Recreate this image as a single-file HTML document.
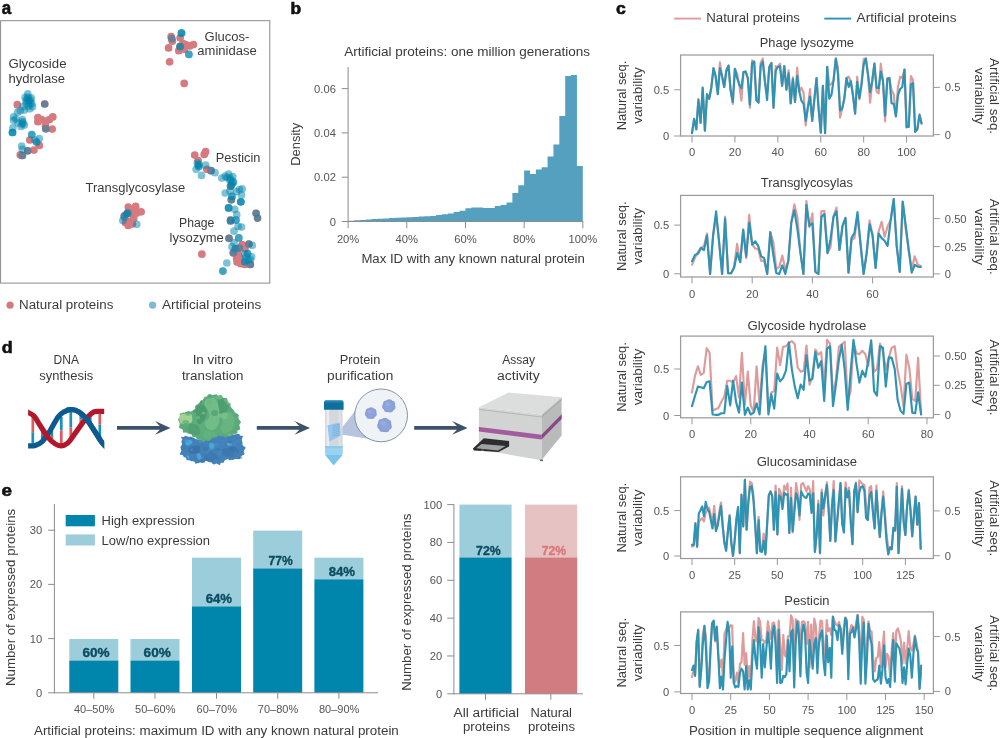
<!DOCTYPE html>
<html lang="en">
<head>
<meta charset="utf-8">
<title>Figure</title>
<style>
html,body{margin:0;padding:0;background:#fff;}
svg{display:block;will-change:transform;}
text{font-family:"Liberation Sans", sans-serif;}
</style>
</head>
<body>
<svg width="1000" height="738" viewBox="0 0 1000 738">
<rect x="0" y="0" width="1000" height="738" fill="#ffffff"/>
<g id="pa">
<text x="1.70" y="13.70" font-size="17.5" font-weight="bold" fill="#111" textLength="9.4" lengthAdjust="spacingAndGlyphs" stroke="#111" stroke-width="0.6">a</text>
<rect x="0.60" y="20.70" width="269.20" height="262.40" fill="none" stroke="#8a8a8a" stroke-width="1"/>
<g>
<circle cx="17.3" cy="104.7" r="3.85" fill="#d57a7f"/>
<circle cx="37.9" cy="117.6" r="3.85" fill="#d57a7f"/>
<circle cx="52.8" cy="116.9" r="3.85" fill="#d57a7f"/>
<circle cx="37.9" cy="121.7" r="3.85" fill="#d57a7f"/>
<circle cx="46.1" cy="121" r="3.85" fill="#d57a7f"/>
<circle cx="52.2" cy="129.1" r="3.85" fill="#d57a7f"/>
<circle cx="45.4" cy="125" r="3.85" fill="#d57a7f"/>
<circle cx="29.8" cy="140" r="3.85" fill="#d57a7f"/>
<circle cx="39.3" cy="145.4" r="3.85" fill="#d57a7f"/>
<circle cx="33.9" cy="150.1" r="3.85" fill="#d57a7f"/>
<circle cx="20.3" cy="154.9" r="3.85" fill="#d57a7f"/>
<circle cx="44.7" cy="104" r="3.85" fill="#d57a7f"/>
<circle cx="45.8" cy="128.8" r="3.85" fill="#d57a7f"/>
<circle cx="27.8" cy="150.8" r="3.85" fill="#d57a7f"/>
<circle cx="22.4" cy="155.5" r="3.85" fill="#d57a7f"/>
<circle cx="41.5" cy="119.5" r="3.85" fill="#d57a7f"/>
<circle cx="49.5" cy="119.5" r="3.85" fill="#d57a7f"/>
<circle cx="171.1" cy="36.7" r="3.85" fill="#d57a7f"/>
<circle cx="180.1" cy="37.8" r="3.85" fill="#d57a7f"/>
<circle cx="172.3" cy="41.2" r="3.85" fill="#d57a7f"/>
<circle cx="168.6" cy="47.9" r="3.85" fill="#d57a7f"/>
<circle cx="185.6" cy="44.6" r="3.85" fill="#d57a7f"/>
<circle cx="189.6" cy="45.9" r="3.85" fill="#d57a7f"/>
<circle cx="193.4" cy="44.6" r="3.85" fill="#d57a7f"/>
<circle cx="178.8" cy="50.7" r="3.85" fill="#d57a7f"/>
<circle cx="184.2" cy="49.3" r="3.85" fill="#d57a7f"/>
<circle cx="169.6" cy="61.8" r="3.85" fill="#d57a7f"/>
<circle cx="184.2" cy="83.4" r="3.85" fill="#d57a7f"/>
<circle cx="171.7" cy="38.5" r="3.85" fill="#d57a7f"/>
<circle cx="180.1" cy="46.6" r="3.85" fill="#d57a7f"/>
<circle cx="183" cy="43.5" r="3.85" fill="#d57a7f"/>
<circle cx="194.7" cy="155.1" r="3.85" fill="#d57a7f"/>
<circle cx="205.6" cy="151.7" r="3.85" fill="#d57a7f"/>
<circle cx="204.2" cy="154.4" r="3.85" fill="#d57a7f"/>
<circle cx="198.1" cy="160.5" r="3.85" fill="#d57a7f"/>
<circle cx="206.9" cy="169.3" r="3.85" fill="#d57a7f"/>
<circle cx="211" cy="170.7" r="3.85" fill="#d57a7f"/>
<circle cx="230.6" cy="186.2" r="3.85" fill="#d57a7f"/>
<circle cx="231.3" cy="199.8" r="3.85" fill="#d57a7f"/>
<circle cx="230.6" cy="220.1" r="3.85" fill="#d57a7f"/>
<circle cx="256.1" cy="213.3" r="3.85" fill="#d57a7f"/>
<circle cx="257.5" cy="218.1" r="3.85" fill="#d57a7f"/>
<circle cx="201.9" cy="254.2" r="3.85" fill="#d57a7f"/>
<circle cx="236.7" cy="258.3" r="3.85" fill="#d57a7f"/>
<circle cx="240.8" cy="263.7" r="3.85" fill="#d57a7f"/>
<circle cx="244.9" cy="264.4" r="3.85" fill="#d57a7f"/>
<circle cx="242.1" cy="244.7" r="3.85" fill="#d57a7f"/>
<circle cx="238.1" cy="254.2" r="3.85" fill="#d57a7f"/>
<circle cx="230.6" cy="221" r="3.85" fill="#d57a7f"/>
<circle cx="229" cy="238.3" r="3.85" fill="#d57a7f"/>
<circle cx="248.9" cy="244" r="3.85" fill="#d57a7f"/>
<circle cx="239.4" cy="248.1" r="3.85" fill="#d57a7f"/>
<circle cx="235.4" cy="248.8" r="3.85" fill="#d57a7f"/>
<circle cx="233.3" cy="252.8" r="3.85" fill="#d57a7f"/>
<circle cx="250.3" cy="264.4" r="3.85" fill="#d57a7f"/>
<circle cx="240" cy="258" r="3.85" fill="#d57a7f"/>
<circle cx="245" cy="249" r="3.85" fill="#d57a7f"/>
<circle cx="237" cy="262" r="3.85" fill="#d57a7f"/>
<circle cx="128.3" cy="207.1" r="3.85" fill="#d57a7f"/>
<circle cx="135.7" cy="206.4" r="3.85" fill="#d57a7f"/>
<circle cx="141.1" cy="211.8" r="3.85" fill="#d57a7f"/>
<circle cx="136.4" cy="213.2" r="3.85" fill="#d57a7f"/>
<circle cx="129.6" cy="213.2" r="3.85" fill="#d57a7f"/>
<circle cx="124.2" cy="215.9" r="3.85" fill="#d57a7f"/>
<circle cx="133.7" cy="218.6" r="3.85" fill="#d57a7f"/>
<circle cx="128.3" cy="221.3" r="3.85" fill="#d57a7f"/>
<circle cx="128.3" cy="225.4" r="3.85" fill="#d57a7f"/>
<circle cx="132.3" cy="224" r="3.85" fill="#d57a7f"/>
<circle cx="125.6" cy="222.7" r="3.85" fill="#d57a7f"/>
<circle cx="131" cy="210" r="3.85" fill="#d57a7f"/>
<circle cx="127.6" cy="213.2" r="3.85" fill="#d57a7f"/>
</g><g fill-opacity="0.5">
<circle cx="27.8" cy="93.9" r="3.85" fill="#0086ad"/>
<circle cx="25.1" cy="97.3" r="3.85" fill="#0086ad"/>
<circle cx="31.2" cy="97.9" r="3.85" fill="#0086ad"/>
<circle cx="28.5" cy="100.7" r="3.85" fill="#0086ad"/>
<circle cx="26.4" cy="103.4" r="3.85" fill="#0086ad"/>
<circle cx="31.8" cy="103.4" r="3.85" fill="#0086ad"/>
<circle cx="32.5" cy="106.7" r="3.85" fill="#0086ad"/>
<circle cx="29.8" cy="108.8" r="3.85" fill="#0086ad"/>
<circle cx="23" cy="106.7" r="3.85" fill="#0086ad"/>
<circle cx="24.4" cy="110.1" r="3.85" fill="#0086ad"/>
<circle cx="20.3" cy="110.8" r="3.85" fill="#0086ad"/>
<circle cx="17.6" cy="112.2" r="3.85" fill="#0086ad"/>
<circle cx="28" cy="97" r="3.85" fill="#0086ad"/>
<circle cx="29" cy="101" r="3.85" fill="#0086ad"/>
<circle cx="27" cy="99" r="3.85" fill="#0086ad"/>
<circle cx="30" cy="104" r="3.85" fill="#0086ad"/>
<circle cx="28.5" cy="106" r="3.85" fill="#0086ad"/>
<circle cx="26" cy="101" r="3.85" fill="#0086ad"/>
<circle cx="30.5" cy="100" r="3.85" fill="#0086ad"/>
<circle cx="13.6" cy="116.9" r="3.85" fill="#0086ad"/>
<circle cx="13.6" cy="120.3" r="3.85" fill="#0086ad"/>
<circle cx="22.4" cy="119.6" r="3.85" fill="#0086ad"/>
<circle cx="23" cy="123" r="3.85" fill="#0086ad"/>
<circle cx="21" cy="126.4" r="3.85" fill="#0086ad"/>
<circle cx="24.4" cy="125" r="3.85" fill="#0086ad"/>
<circle cx="12.9" cy="127.8" r="3.85" fill="#0086ad"/>
<circle cx="12.5" cy="132.5" r="3.85" fill="#0086ad"/>
<circle cx="12.5" cy="132.5" r="3.85" fill="#0086ad"/>
<circle cx="12.5" cy="132.5" r="3.85" fill="#0086ad"/>
<circle cx="22.5" cy="121.5" r="3.85" fill="#0086ad"/>
<circle cx="22" cy="124" r="3.85" fill="#0086ad"/>
<circle cx="16" cy="119" r="3.85" fill="#0086ad"/>
<circle cx="18" cy="123" r="3.85" fill="#0086ad"/>
<circle cx="31.8" cy="134.5" r="3.85" fill="#0086ad"/>
<circle cx="39.3" cy="138.6" r="3.85" fill="#0086ad"/>
<circle cx="36.6" cy="142" r="3.85" fill="#0086ad"/>
<circle cx="36.6" cy="142" r="3.85" fill="#0086ad"/>
<circle cx="21.7" cy="146" r="3.85" fill="#0086ad"/>
<circle cx="22.4" cy="149.4" r="3.85" fill="#0086ad"/>
<circle cx="31.8" cy="134.5" r="3.85" fill="#0086ad"/>
<circle cx="35" cy="140" r="3.85" fill="#0086ad"/>
<circle cx="44.7" cy="104" r="3.85" fill="#0086ad"/>
<circle cx="45.8" cy="128.8" r="3.85" fill="#0086ad"/>
<circle cx="27.8" cy="150.8" r="3.85" fill="#0086ad"/>
<circle cx="22.4" cy="155.5" r="3.85" fill="#0086ad"/>
<circle cx="181.5" cy="33" r="3.85" fill="#0086ad"/>
<circle cx="181.5" cy="33" r="3.85" fill="#0086ad"/>
<circle cx="181.5" cy="33" r="3.85" fill="#0086ad"/>
<circle cx="188.9" cy="54.4" r="3.85" fill="#0086ad"/>
<circle cx="188.9" cy="54.4" r="3.85" fill="#0086ad"/>
<circle cx="171.7" cy="38.5" r="3.85" fill="#0086ad"/>
<circle cx="180.1" cy="46.6" r="3.85" fill="#0086ad"/>
<circle cx="180.1" cy="46.6" r="3.85" fill="#0086ad"/>
<circle cx="197.4" cy="163.2" r="3.85" fill="#0086ad"/>
<circle cx="205.6" cy="165.2" r="3.85" fill="#0086ad"/>
<circle cx="198.8" cy="166.6" r="3.85" fill="#0086ad"/>
<circle cx="198.8" cy="166.6" r="3.85" fill="#0086ad"/>
<circle cx="196.1" cy="169.3" r="3.85" fill="#0086ad"/>
<circle cx="201.5" cy="175.4" r="3.85" fill="#0086ad"/>
<circle cx="215" cy="172.7" r="3.85" fill="#0086ad"/>
<circle cx="221.8" cy="178.1" r="3.85" fill="#0086ad"/>
<circle cx="225.2" cy="176.1" r="3.85" fill="#0086ad"/>
<circle cx="228.6" cy="174" r="3.85" fill="#0086ad"/>
<circle cx="232.7" cy="176.7" r="3.85" fill="#0086ad"/>
<circle cx="229.3" cy="179.5" r="3.85" fill="#0086ad"/>
<circle cx="233.3" cy="182.2" r="3.85" fill="#0086ad"/>
<circle cx="233.3" cy="182.2" r="3.85" fill="#0086ad"/>
<circle cx="231.3" cy="184.9" r="3.85" fill="#0086ad"/>
<circle cx="239.4" cy="189.6" r="3.85" fill="#0086ad"/>
<circle cx="242.1" cy="188.9" r="3.85" fill="#0086ad"/>
<circle cx="236.7" cy="191.7" r="3.85" fill="#0086ad"/>
<circle cx="225.2" cy="193" r="3.85" fill="#0086ad"/>
<circle cx="229.9" cy="191" r="3.85" fill="#0086ad"/>
<circle cx="232" cy="196.4" r="3.85" fill="#0086ad"/>
<circle cx="232" cy="196.4" r="3.85" fill="#0086ad"/>
<circle cx="241.5" cy="195" r="3.85" fill="#0086ad"/>
<circle cx="240.8" cy="201.8" r="3.85" fill="#0086ad"/>
<circle cx="240.8" cy="201.8" r="3.85" fill="#0086ad"/>
<circle cx="240.8" cy="201.8" r="3.85" fill="#0086ad"/>
<circle cx="228.6" cy="207.9" r="3.85" fill="#0086ad"/>
<circle cx="228.6" cy="207.9" r="3.85" fill="#0086ad"/>
<circle cx="228.6" cy="207.9" r="3.85" fill="#0086ad"/>
<circle cx="234.7" cy="209.3" r="3.85" fill="#0086ad"/>
<circle cx="236.7" cy="214.7" r="3.85" fill="#0086ad"/>
<circle cx="236" cy="220.1" r="3.85" fill="#0086ad"/>
<circle cx="236" cy="220.1" r="3.85" fill="#0086ad"/>
<circle cx="211" cy="170.7" r="3.85" fill="#0086ad"/>
<circle cx="230.6" cy="186.2" r="3.85" fill="#0086ad"/>
<circle cx="231.3" cy="199.8" r="3.85" fill="#0086ad"/>
<circle cx="230.6" cy="220.1" r="3.85" fill="#0086ad"/>
<circle cx="256.1" cy="213.3" r="3.85" fill="#0086ad"/>
<circle cx="257.5" cy="218.1" r="3.85" fill="#0086ad"/>
<circle cx="199" cy="164.5" r="3.85" fill="#0086ad"/>
<circle cx="227" cy="177.5" r="3.85" fill="#0086ad"/>
<circle cx="231" cy="180" r="3.85" fill="#0086ad"/>
<circle cx="198" cy="165" r="3.85" fill="#0086ad"/>
<circle cx="230" cy="178" r="3.85" fill="#0086ad"/>
<circle cx="232" cy="184" r="3.85" fill="#0086ad"/>
<circle cx="238.1" cy="226.4" r="3.85" fill="#0086ad"/>
<circle cx="241.5" cy="227.1" r="3.85" fill="#0086ad"/>
<circle cx="234" cy="231.2" r="3.85" fill="#0086ad"/>
<circle cx="238.8" cy="237.9" r="3.85" fill="#0086ad"/>
<circle cx="238.8" cy="237.9" r="3.85" fill="#0086ad"/>
<circle cx="234" cy="242.7" r="3.85" fill="#0086ad"/>
<circle cx="232" cy="246.7" r="3.85" fill="#0086ad"/>
<circle cx="252.3" cy="245.4" r="3.85" fill="#0086ad"/>
<circle cx="247.6" cy="253.5" r="3.85" fill="#0086ad"/>
<circle cx="247.6" cy="253.5" r="3.85" fill="#0086ad"/>
<circle cx="244.9" cy="254.2" r="3.85" fill="#0086ad"/>
<circle cx="251.6" cy="256.9" r="3.85" fill="#0086ad"/>
<circle cx="250.3" cy="259.6" r="3.85" fill="#0086ad"/>
<circle cx="244.9" cy="261.7" r="3.85" fill="#0086ad"/>
<circle cx="244.9" cy="261.7" r="3.85" fill="#0086ad"/>
<circle cx="226.8" cy="263" r="3.85" fill="#0086ad"/>
<circle cx="222.9" cy="271.1" r="3.85" fill="#0086ad"/>
<circle cx="222.9" cy="271.1" r="3.85" fill="#0086ad"/>
<circle cx="229" cy="238.3" r="3.85" fill="#0086ad"/>
<circle cx="248.9" cy="244" r="3.85" fill="#0086ad"/>
<circle cx="239.4" cy="248.1" r="3.85" fill="#0086ad"/>
<circle cx="235.4" cy="248.8" r="3.85" fill="#0086ad"/>
<circle cx="233.3" cy="252.8" r="3.85" fill="#0086ad"/>
<circle cx="250.3" cy="264.4" r="3.85" fill="#0086ad"/>
<circle cx="230.6" cy="221" r="3.85" fill="#0086ad"/>
<circle cx="246" cy="257" r="3.85" fill="#0086ad"/>
<circle cx="248" cy="260" r="3.85" fill="#0086ad"/>
<circle cx="127.6" cy="213.2" r="3.85" fill="#0086ad"/>
<circle cx="127.6" cy="213.2" r="3.85" fill="#0086ad"/>
<circle cx="126" cy="214.5" r="3.85" fill="#0086ad"/>
<circle cx="124.2" cy="217.2" r="3.85" fill="#0086ad"/>
<circle cx="122.8" cy="220.6" r="3.85" fill="#0086ad"/>
<circle cx="136.8" cy="224.3" r="3.85" fill="#0086ad"/>
</g>
<text x="8.40" y="67.60" font-size="12.0" fill="#3a3a3a" textLength="58.1" lengthAdjust="spacingAndGlyphs">Glycoside</text>
<text x="8.40" y="82.90" font-size="12.0" fill="#3a3a3a" textLength="56.7" lengthAdjust="spacingAndGlyphs">hydrolase</text>
<text x="227.00" y="40.50" font-size="12.0" text-anchor="middle" fill="#3a3a3a" textLength="44.9" lengthAdjust="spacingAndGlyphs">Glucos-</text>
<text x="227.00" y="55.40" font-size="12.0" text-anchor="middle" fill="#3a3a3a" textLength="59.4" lengthAdjust="spacingAndGlyphs">aminidase</text>
<text x="215.70" y="161.80" font-size="12.0" fill="#3a3a3a" textLength="44.7" lengthAdjust="spacingAndGlyphs">Pesticin</text>
<text x="85.60" y="191.90" font-size="12.0" fill="#3a3a3a" textLength="99.6" lengthAdjust="spacingAndGlyphs">Transglycosylase</text>
<text x="196.70" y="226.60" font-size="12.0" text-anchor="middle" fill="#3a3a3a" textLength="35.3" lengthAdjust="spacingAndGlyphs">Phage</text>
<text x="196.70" y="242.30" font-size="12.0" text-anchor="middle" fill="#3a3a3a" textLength="54.2" lengthAdjust="spacingAndGlyphs">lysozyme</text>
<circle cx="10.1" cy="305.2" r="3.6" fill="#d8787d"/>
<text x="19.00" y="309.40" font-size="12.0" fill="#3a3a3a" textLength="94.4" lengthAdjust="spacingAndGlyphs">Natural proteins</text>
<circle cx="152.6" cy="305.2" r="3.6" fill="#7cbad6"/>
<text x="161.90" y="309.40" font-size="12.0" fill="#3a3a3a" textLength="99.4" lengthAdjust="spacingAndGlyphs">Artificial proteins</text>
</g>
<g id="pb">
<text x="290.60" y="13.80" font-size="16" font-weight="bold" fill="#111" textLength="10.6" lengthAdjust="spacingAndGlyphs" stroke="#111" stroke-width="0.6">b</text>
<text x="344.20" y="55.50" font-size="12.0" fill="#3a3a3a" textLength="245.8" lengthAdjust="spacingAndGlyphs">Artificial proteins: one million generations</text>
<path d="M348.10,221.50 L348.10,220.70 L353.97,220.70 L353.97,220.30 L359.84,220.30 L359.84,219.90 L365.70,219.90 L365.70,219.50 L371.57,219.50 L371.57,219.10 L377.44,219.10 L377.44,218.70 L383.31,218.70 L383.31,218.40 L389.17,218.40 L389.17,218.10 L395.04,218.10 L395.04,217.80 L400.91,217.80 L400.91,217.50 L406.78,217.50 L406.77,217.20 L412.64,217.20 L412.64,216.90 L418.51,216.90 L418.51,216.60 L424.38,216.60 L424.38,216.30 L430.25,216.30 L430.25,215.90 L436.11,215.90 L436.11,215.00 L441.98,215.00 L441.98,214.30 L447.85,214.30 L447.85,213.50 L453.71,213.50 L453.71,212.00 L459.58,212.00 L459.58,210.70 L465.45,210.70 L465.45,208.20 L471.32,208.20 L471.32,207.50 L477.19,207.50 L477.18,207.50 L483.05,207.50 L483.05,208.00 L488.92,208.00 L488.92,208.00 L494.79,208.00 L494.79,206.00 L500.65,206.00 L500.65,205.00 L506.52,205.00 L506.52,202.50 L512.39,202.50 L512.39,192.90 L518.26,192.90 L518.26,185.20 L524.12,185.20 L524.12,170.50 L529.99,170.50 L529.99,174.00 L535.86,174.00 L535.86,169.50 L541.73,169.50 L541.73,167.30 L547.59,167.30 L547.59,156.50 L553.46,156.50 L553.46,144.50 L559.33,144.50 L559.33,116.10 L565.20,116.10 L565.20,76.00 L571.06,76.00 L571.06,75.00 L576.93,75.00 L576.93,165.90 L582.80,165.90 L582.80,221.50 Z" fill="#54a0be"/>
<line x1="348.10" y1="67.00" x2="348.10" y2="222.00" stroke="#8c8c8c" stroke-width="1"/>
<line x1="347.60" y1="221.50" x2="583.30" y2="221.50" stroke="#8c8c8c" stroke-width="1"/>
<line x1="341.80" y1="221.50" x2="348.10" y2="221.50" stroke="#8c8c8c" stroke-width="1"/>
<text x="335.90" y="225.50" font-size="11.2" text-anchor="end" fill="#555555">0</text>
<line x1="341.80" y1="177.20" x2="348.10" y2="177.20" stroke="#8c8c8c" stroke-width="1"/>
<text x="335.90" y="181.20" font-size="11.2" text-anchor="end" fill="#555555">0.02</text>
<line x1="341.80" y1="132.90" x2="348.10" y2="132.90" stroke="#8c8c8c" stroke-width="1"/>
<text x="335.90" y="136.90" font-size="11.2" text-anchor="end" fill="#555555">0.04</text>
<line x1="341.80" y1="88.60" x2="348.10" y2="88.60" stroke="#8c8c8c" stroke-width="1"/>
<text x="335.90" y="92.60" font-size="11.2" text-anchor="end" fill="#555555">0.06</text>
<line x1="348.10" y1="221.50" x2="348.10" y2="228.20" stroke="#8c8c8c" stroke-width="1"/>
<text x="348.10" y="242.80" font-size="11.2" text-anchor="middle" fill="#555555">20%</text>
<line x1="406.78" y1="221.50" x2="406.78" y2="228.20" stroke="#8c8c8c" stroke-width="1"/>
<text x="406.78" y="242.80" font-size="11.2" text-anchor="middle" fill="#555555">40%</text>
<line x1="465.46" y1="221.50" x2="465.46" y2="228.20" stroke="#8c8c8c" stroke-width="1"/>
<text x="465.46" y="242.80" font-size="11.2" text-anchor="middle" fill="#555555">60%</text>
<line x1="524.14" y1="221.50" x2="524.14" y2="228.20" stroke="#8c8c8c" stroke-width="1"/>
<text x="524.14" y="242.80" font-size="11.2" text-anchor="middle" fill="#555555">80%</text>
<line x1="582.82" y1="221.50" x2="582.82" y2="228.20" stroke="#8c8c8c" stroke-width="1"/>
<text x="582.82" y="242.80" font-size="11.2" text-anchor="middle" fill="#555555">100%</text>
<text x="361.40" y="263.10" font-size="12.0" fill="#3a3a3a" textLength="223.5" lengthAdjust="spacingAndGlyphs">Max ID with any known natural protein</text>
<text x="300.30" y="144.20" font-size="12.0" text-anchor="middle" fill="#3a3a3a" textLength="43.0" lengthAdjust="spacingAndGlyphs" transform="rotate(-90 300.30 144.20)">Density</text>
</g>
<g id="pc">
<text x="615.90" y="13.80" font-size="17" font-weight="bold" fill="#111" textLength="9.8" lengthAdjust="spacingAndGlyphs" stroke="#111" stroke-width="0.6">c</text>
<line x1="674.20" y1="18.60" x2="701.00" y2="18.60" stroke="#dd9b9b" stroke-width="1.9"/>
<text x="706.20" y="22.20" font-size="12.0" fill="#3a3a3a" textLength="93.8" lengthAdjust="spacingAndGlyphs">Natural proteins</text>
<line x1="824.30" y1="18.60" x2="851.20" y2="18.60" stroke="#2f93b3" stroke-width="1.9"/>
<text x="856.60" y="22.20" font-size="12.0" fill="#3a3a3a" textLength="99.9" lengthAdjust="spacingAndGlyphs">Artificial proteins</text>
<text x="806.90" y="47.10" font-size="12.0" text-anchor="middle" fill="#3a3a3a" textLength="94.2" lengthAdjust="spacingAndGlyphs">Phage lysozyme</text>
<polyline points="692.0,133.2 694.1,118.9 696.3,129.3 698.4,98.8 700.6,122.8 702.7,87.7 704.9,130.6 707.0,94.2 709.2,98.8 711.3,87.7 713.5,68.2 715.6,76.0 717.8,94.2 719.9,62.4 722.0,76.0 724.2,87.0 726.3,69.5 728.5,65.6 730.6,90.3 732.8,103.9 734.9,68.8 737.1,73.4 739.2,84.4 741.4,100.7 743.5,72.1 745.6,71.5 747.8,78.0 749.9,107.8 752.1,60.4 754.2,61.7 756.4,100.0 758.5,102.7 760.7,62.4 762.8,58.5 765.0,82.5 767.1,92.9 769.3,66.9 771.4,63.0 773.5,107.8 775.7,66.2 777.8,66.9 780.0,63.6 782.1,85.8 784.3,66.2 786.4,89.7 788.6,70.2 790.7,103.3 792.9,77.3 795.0,102.0 797.2,67.5 799.3,91.6 801.4,87.7 803.6,92.9 805.7,125.4 807.9,107.2 810.0,89.0 812.2,120.8 814.3,100.0 816.5,78.0 818.6,108.5 820.8,132.6 822.9,85.8 825.1,133.2 827.2,66.9 829.3,85.1 831.5,83.8 833.6,79.9 835.8,58.5 837.9,66.9 840.1,117.6 842.2,108.5 844.4,98.1 846.5,78.0 848.7,76.7 850.8,81.2 853.0,95.5 855.1,113.7 857.2,76.7 859.4,99.4 861.5,84.4 863.7,59.1 865.8,58.5 868.0,74.7 870.1,102.7 872.3,80.5 874.4,63.6 876.6,91.6 878.7,93.5 880.8,63.6 883.0,81.2 885.1,121.5 887.3,78.0 889.4,78.0 891.6,90.3 893.7,94.2 895.9,116.3 898.0,86.4 900.2,76.7 902.3,78.0 904.5,69.5 906.6,127.3 908.7,126.7 910.9,76.0 913.0,79.9 915.2,131.9 917.3,129.3 919.5,114.3 921.6,123.5" fill="none" stroke="#dd9b9b" stroke-width="2.15" stroke-linejoin="round" stroke-linecap="round"/>
<polyline points="692.0,133.2 694.1,118.9 696.3,129.3 698.4,100.0 700.6,122.8 702.7,87.7 704.9,130.6 707.0,94.2 709.2,98.8 711.3,87.7 713.5,68.2 715.6,76.0 717.8,94.2 719.9,68.2 722.0,76.0 724.2,87.0 726.3,71.5 728.5,65.6 730.6,90.3 732.8,102.0 734.9,68.8 737.1,78.0 739.2,84.4 741.4,88.3 743.5,72.1 745.6,71.5 747.8,78.0 749.9,104.6 752.1,63.0 754.2,61.7 756.4,100.0 758.5,102.7 760.7,65.6 762.8,61.7 765.0,82.5 767.1,100.0 769.3,66.9 771.4,63.0 773.5,107.8 775.7,70.8 777.8,66.9 780.0,66.2 782.1,85.8 784.3,66.2 786.4,89.7 788.6,73.4 790.7,103.3 792.9,79.2 795.0,102.0 797.2,76.0 799.3,91.6 801.4,100.7 803.6,103.9 805.7,120.8 807.9,107.2 810.0,96.8 812.2,120.8 814.3,100.0 816.5,78.0 818.6,108.5 820.8,132.6 822.9,85.8 825.1,133.2 827.2,66.9 829.3,98.8 831.5,94.8 833.6,79.9 835.8,58.5 837.9,73.4 840.1,110.4 842.2,108.5 844.4,98.1 846.5,78.0 848.7,87.0 850.8,81.2 853.0,95.5 855.1,113.7 857.2,81.8 859.4,98.1 861.5,84.4 863.7,64.3 865.8,58.5 868.0,74.7 870.1,92.2 872.3,80.5 874.4,63.6 876.6,87.7 878.7,88.3 880.8,71.5 883.0,81.2 885.1,115.6 887.3,79.2 889.4,78.0 891.6,103.3 893.7,103.9 895.9,116.3 898.0,94.8 900.2,89.0 902.3,87.0 904.5,69.5 906.6,127.3 908.7,126.7 910.9,84.4 913.0,83.2 915.2,131.9 917.3,129.3 919.5,115.0 921.6,123.5" fill="none" stroke="#2f93b3" stroke-width="2.15" stroke-linejoin="round" stroke-linecap="round"/>
<rect x="680.60" y="55.00" width="252.80" height="81.00" fill="none" stroke="#9b9b9b" stroke-width="1.25"/>
<line x1="674.20" y1="136.00" x2="680.60" y2="136.00" stroke="#999" stroke-width="1"/>
<text x="669.20" y="140.00" font-size="11.2" text-anchor="end" fill="#555555">0</text>
<line x1="674.20" y1="89.80" x2="680.60" y2="89.80" stroke="#999" stroke-width="1"/>
<text x="669.20" y="93.80" font-size="11.2" text-anchor="end" fill="#555555">0.5</text>
<line x1="933.40" y1="134.60" x2="939.80" y2="134.60" stroke="#999" stroke-width="1"/>
<text x="944.80" y="138.60" font-size="11.2" fill="#555555">0</text>
<line x1="933.40" y1="87.40" x2="939.80" y2="87.40" stroke="#999" stroke-width="1"/>
<text x="944.80" y="91.40" font-size="11.2" fill="#555555">0.5</text>
<line x1="692.00" y1="136.00" x2="692.00" y2="142.50" stroke="#999" stroke-width="1"/>
<text x="692.00" y="156.40" font-size="11.2" text-anchor="middle" fill="#555555">0</text>
<line x1="734.92" y1="136.00" x2="734.92" y2="142.50" stroke="#999" stroke-width="1"/>
<text x="734.92" y="156.40" font-size="11.2" text-anchor="middle" fill="#555555">20</text>
<line x1="777.84" y1="136.00" x2="777.84" y2="142.50" stroke="#999" stroke-width="1"/>
<text x="777.84" y="156.40" font-size="11.2" text-anchor="middle" fill="#555555">40</text>
<line x1="820.76" y1="136.00" x2="820.76" y2="142.50" stroke="#999" stroke-width="1"/>
<text x="820.76" y="156.40" font-size="11.2" text-anchor="middle" fill="#555555">60</text>
<line x1="863.68" y1="136.00" x2="863.68" y2="142.50" stroke="#999" stroke-width="1"/>
<text x="863.68" y="156.40" font-size="11.2" text-anchor="middle" fill="#555555">80</text>
<line x1="906.60" y1="136.00" x2="906.60" y2="142.50" stroke="#999" stroke-width="1"/>
<text x="906.60" y="156.40" font-size="11.2" text-anchor="middle" fill="#555555">100</text>
<text x="626.40" y="95.50" font-size="12.0" text-anchor="middle" fill="#3a3a3a" textLength="69.7" lengthAdjust="spacingAndGlyphs" transform="rotate(-90 626.40 95.50)">Natural seq.</text>
<text x="642.00" y="95.50" font-size="12.0" text-anchor="middle" fill="#3a3a3a" textLength="56.5" lengthAdjust="spacingAndGlyphs" transform="rotate(-90 642.00 95.50)">variability</text>
<text x="990.20" y="96.10" font-size="12.0" text-anchor="middle" fill="#3a3a3a" textLength="76.0" lengthAdjust="spacingAndGlyphs" transform="rotate(90 990.20 96.10)">Artificial seq.</text>
<text x="974.80" y="96.10" font-size="12.0" text-anchor="middle" fill="#3a3a3a" textLength="56.5" lengthAdjust="spacingAndGlyphs" transform="rotate(90 974.80 96.10)">variability</text>
<text x="806.90" y="187.30" font-size="12.0" text-anchor="middle" fill="#3a3a3a" textLength="92.3" lengthAdjust="spacingAndGlyphs">Transglycosylas</text>
<polyline points="692.0,264.8 695.0,257.6 698.0,251.8 701.0,247.8 704.0,245.9 707.0,233.6 710.1,273.9 713.1,235.5 716.1,215.3 719.1,242.0 722.1,273.9 725.1,216.7 728.1,273.2 731.1,273.2 734.1,266.7 737.1,243.9 740.2,262.1 743.2,229.7 746.2,258.2 749.2,214.7 752.2,244.6 755.2,248.5 758.2,249.2 761.2,260.9 764.2,260.9 767.2,273.9 770.3,232.2 773.3,242.0 776.3,269.3 779.3,266.7 782.3,255.6 785.3,269.3 788.3,260.9 791.3,222.5 794.3,204.3 797.4,217.3 800.4,252.4 803.4,273.9 806.4,201.1 809.4,227.1 812.4,213.4 815.4,271.9 818.4,273.9 821.4,211.4 824.4,210.8 827.5,253.1 830.5,247.2 833.5,216.7 836.5,207.6 839.5,249.8 842.5,225.8 845.5,217.9 848.5,272.6 851.5,240.1 854.5,238.1 857.5,216.0 860.6,244.6 863.6,273.9 866.6,253.7 869.6,220.6 872.6,235.5 875.6,268.0 878.6,231.6 881.6,221.8 884.6,236.8 887.6,226.4 890.7,219.9 893.7,199.1 896.7,245.9 899.7,271.9 902.7,201.7 905.7,229.0 908.7,249.8 911.7,269.3 914.7,256.3 917.8,264.8 920.8,266.1" fill="none" stroke="#dd9b9b" stroke-width="2.15" stroke-linejoin="round" stroke-linecap="round"/>
<polyline points="692.0,261.2 695.0,255.0 698.0,253.7 701.0,247.8 704.0,250.1 707.0,235.5 710.1,273.9 713.1,235.5 716.1,211.4 719.1,242.0 722.1,273.9 725.1,218.6 728.1,273.2 731.1,273.2 734.1,268.0 737.1,253.1 740.2,262.1 743.2,229.7 746.2,256.3 749.2,222.5 752.2,244.6 755.2,241.3 758.2,245.9 761.2,256.3 764.2,258.2 767.2,273.9 770.3,232.2 773.3,255.0 776.3,273.2 779.3,273.9 782.3,265.4 785.3,273.9 788.3,260.9 791.3,222.5 794.3,210.2 797.4,229.0 800.4,252.4 803.4,273.9 806.4,204.9 809.4,225.8 812.4,223.2 815.4,271.9 818.4,273.9 821.4,216.7 824.4,214.1 827.5,253.1 830.5,239.4 833.5,216.7 836.5,211.4 839.5,249.8 842.5,225.8 845.5,217.9 848.5,272.6 851.5,238.1 854.5,232.9 857.5,212.1 860.6,244.6 863.6,273.9 866.6,253.7 869.6,224.4 872.6,235.5 875.6,268.0 878.6,233.6 881.6,238.1 884.6,240.7 887.6,245.9 890.7,219.9 893.7,199.1 896.7,245.9 899.7,271.9 902.7,201.7 905.7,225.1 908.7,249.8 911.7,272.6 914.7,264.8 917.8,266.7 920.8,267.0" fill="none" stroke="#2f93b3" stroke-width="2.15" stroke-linejoin="round" stroke-linecap="round"/>
<rect x="680.60" y="195.40" width="252.80" height="81.60" fill="none" stroke="#9b9b9b" stroke-width="1.25"/>
<line x1="674.20" y1="273.80" x2="680.60" y2="273.80" stroke="#999" stroke-width="1"/>
<text x="669.20" y="277.80" font-size="11.2" text-anchor="end" fill="#555555">0</text>
<line x1="674.20" y1="225.10" x2="680.60" y2="225.10" stroke="#999" stroke-width="1"/>
<text x="669.20" y="229.10" font-size="11.2" text-anchor="end" fill="#555555">0.5</text>
<line x1="933.40" y1="273.90" x2="939.80" y2="273.90" stroke="#999" stroke-width="1"/>
<text x="944.80" y="277.90" font-size="11.2" fill="#555555">0</text>
<line x1="933.40" y1="246.60" x2="939.80" y2="246.60" stroke="#999" stroke-width="1"/>
<text x="944.80" y="250.60" font-size="11.2" fill="#555555">0.25</text>
<line x1="933.40" y1="218.60" x2="939.80" y2="218.60" stroke="#999" stroke-width="1"/>
<text x="944.80" y="222.60" font-size="11.2" fill="#555555">0.50</text>
<line x1="692.00" y1="277.00" x2="692.00" y2="283.50" stroke="#999" stroke-width="1"/>
<text x="692.00" y="297.80" font-size="11.2" text-anchor="middle" fill="#555555">0</text>
<line x1="752.20" y1="277.00" x2="752.20" y2="283.50" stroke="#999" stroke-width="1"/>
<text x="752.20" y="297.80" font-size="11.2" text-anchor="middle" fill="#555555">20</text>
<line x1="812.40" y1="277.00" x2="812.40" y2="283.50" stroke="#999" stroke-width="1"/>
<text x="812.40" y="297.80" font-size="11.2" text-anchor="middle" fill="#555555">40</text>
<line x1="872.60" y1="277.00" x2="872.60" y2="283.50" stroke="#999" stroke-width="1"/>
<text x="872.60" y="297.80" font-size="11.2" text-anchor="middle" fill="#555555">60</text>
<text x="626.40" y="236.20" font-size="12.0" text-anchor="middle" fill="#3a3a3a" textLength="69.7" lengthAdjust="spacingAndGlyphs" transform="rotate(-90 626.40 236.20)">Natural seq.</text>
<text x="642.00" y="236.20" font-size="12.0" text-anchor="middle" fill="#3a3a3a" textLength="56.5" lengthAdjust="spacingAndGlyphs" transform="rotate(-90 642.00 236.20)">variability</text>
<text x="990.20" y="236.80" font-size="12.0" text-anchor="middle" fill="#3a3a3a" textLength="76.0" lengthAdjust="spacingAndGlyphs" transform="rotate(90 990.20 236.80)">Artificial seq.</text>
<text x="974.80" y="236.80" font-size="12.0" text-anchor="middle" fill="#3a3a3a" textLength="56.5" lengthAdjust="spacingAndGlyphs" transform="rotate(90 974.80 236.80)">variability</text>
<text x="806.90" y="330.40" font-size="12.0" text-anchor="middle" fill="#3a3a3a" textLength="119.0" lengthAdjust="spacingAndGlyphs">Glycoside hydrolase</text>
<polyline points="692.0,392.4 694.9,376.1 697.9,366.4 700.8,374.9 703.7,372.9 706.7,348.2 709.6,352.8 712.6,410.6 715.5,409.3 718.4,408.0 721.4,401.5 724.3,396.9 727.2,380.7 730.2,380.7 733.1,382.6 736.1,376.1 739.0,397.6 741.9,352.8 744.9,404.8 747.8,371.6 750.7,405.4 753.7,411.9 756.6,366.4 759.6,404.8 762.5,365.8 765.4,350.1 768.4,410.6 771.3,392.4 774.2,391.1 777.2,347.6 780.1,365.1 783.0,346.9 786.0,346.2 788.9,343.0 791.9,341.1 794.8,344.3 797.7,367.7 800.7,371.6 803.6,370.9 806.5,345.6 809.5,384.6 812.4,376.1 815.4,349.5 818.3,354.7 821.2,352.1 824.2,385.9 827.1,339.8 830.0,343.6 833.0,395.0 835.9,379.4 838.9,346.9 841.8,344.3 844.7,341.7 847.7,402.1 850.6,391.1 853.5,343.0 856.5,353.4 859.4,354.1 862.3,350.8 865.3,354.1 868.2,365.8 871.2,343.6 874.1,371.6 877.0,369.0 880.0,343.6 882.9,351.4 885.8,369.6 888.8,357.9 891.7,347.6 894.7,346.2 897.6,370.3 900.5,384.6 903.5,406.7 906.4,354.7 909.3,367.7 912.3,398.9 915.2,400.9 918.1,357.9 921.1,413.2" fill="none" stroke="#dd9b9b" stroke-width="2.15" stroke-linejoin="round" stroke-linecap="round"/>
<polyline points="692.0,406.1 694.9,396.3 697.9,386.6 700.8,387.2 703.7,388.2 706.7,382.0 709.6,381.4 712.6,414.5 715.5,414.8 718.4,414.8 721.4,413.2 724.3,413.2 727.2,385.9 730.2,405.4 733.1,380.7 736.1,402.1 739.0,412.6 741.9,382.6 744.9,414.8 747.8,407.7 750.7,414.5 753.7,412.6 756.6,403.4 759.6,414.5 762.5,372.9 765.4,346.2 768.4,414.5 771.3,394.4 774.2,408.6 777.2,373.6 780.1,381.4 783.0,378.1 786.0,370.3 788.9,342.4 791.9,369.6 794.8,386.6 797.7,398.2 800.7,384.6 803.6,389.8 806.5,355.4 809.5,380.7 812.4,378.8 815.4,352.1 818.3,367.7 821.2,361.2 824.2,400.9 827.1,348.9 830.0,346.2 833.0,406.1 835.9,384.6 838.9,359.9 841.8,344.9 844.7,369.6 847.7,409.9 850.6,372.2 853.5,339.8 856.5,363.8 859.4,382.6 862.3,370.9 865.3,376.8 868.2,361.2 871.2,340.4 874.1,391.1 877.0,395.6 880.0,346.2 882.9,347.6 885.8,386.6 888.8,357.3 891.7,357.9 894.7,369.0 897.6,399.6 900.5,410.6 903.5,413.9 906.4,383.9 909.3,382.6 912.3,412.6 915.2,413.2 918.1,392.4 921.1,414.5" fill="none" stroke="#2f93b3" stroke-width="2.15" stroke-linejoin="round" stroke-linecap="round"/>
<rect x="680.60" y="336.10" width="252.80" height="81.70" fill="none" stroke="#9b9b9b" stroke-width="1.25"/>
<line x1="674.20" y1="415.50" x2="680.60" y2="415.50" stroke="#999" stroke-width="1"/>
<text x="669.20" y="419.50" font-size="11.2" text-anchor="end" fill="#555555">0</text>
<line x1="674.20" y1="369.00" x2="680.60" y2="369.00" stroke="#999" stroke-width="1"/>
<text x="669.20" y="373.00" font-size="11.2" text-anchor="end" fill="#555555">0.5</text>
<line x1="933.40" y1="414.50" x2="939.80" y2="414.50" stroke="#999" stroke-width="1"/>
<text x="944.80" y="418.50" font-size="11.2" fill="#555555">0</text>
<line x1="933.40" y1="385.30" x2="939.80" y2="385.30" stroke="#999" stroke-width="1"/>
<text x="944.80" y="389.30" font-size="11.2" fill="#555555">0.25</text>
<line x1="933.40" y1="356.00" x2="939.80" y2="356.00" stroke="#999" stroke-width="1"/>
<text x="944.80" y="360.00" font-size="11.2" fill="#555555">0.50</text>
<line x1="692.00" y1="417.80" x2="692.00" y2="424.30" stroke="#999" stroke-width="1"/>
<text x="692.00" y="438.00" font-size="11.2" text-anchor="middle" fill="#555555">0</text>
<line x1="750.74" y1="417.80" x2="750.74" y2="424.30" stroke="#999" stroke-width="1"/>
<text x="750.74" y="438.00" font-size="11.2" text-anchor="middle" fill="#555555">20</text>
<line x1="809.48" y1="417.80" x2="809.48" y2="424.30" stroke="#999" stroke-width="1"/>
<text x="809.48" y="438.00" font-size="11.2" text-anchor="middle" fill="#555555">40</text>
<line x1="868.22" y1="417.80" x2="868.22" y2="424.30" stroke="#999" stroke-width="1"/>
<text x="868.22" y="438.00" font-size="11.2" text-anchor="middle" fill="#555555">60</text>
<line x1="926.96" y1="417.80" x2="926.96" y2="424.30" stroke="#999" stroke-width="1"/>
<text x="926.96" y="438.00" font-size="11.2" text-anchor="middle" fill="#555555">80</text>
<text x="626.40" y="376.95" font-size="12.0" text-anchor="middle" fill="#3a3a3a" textLength="69.7" lengthAdjust="spacingAndGlyphs" transform="rotate(-90 626.40 376.95)">Natural seq.</text>
<text x="642.00" y="376.95" font-size="12.0" text-anchor="middle" fill="#3a3a3a" textLength="56.5" lengthAdjust="spacingAndGlyphs" transform="rotate(-90 642.00 376.95)">variability</text>
<text x="990.20" y="377.55" font-size="12.0" text-anchor="middle" fill="#3a3a3a" textLength="76.0" lengthAdjust="spacingAndGlyphs" transform="rotate(90 990.20 377.55)">Artificial seq.</text>
<text x="974.80" y="377.55" font-size="12.0" text-anchor="middle" fill="#3a3a3a" textLength="56.5" lengthAdjust="spacingAndGlyphs" transform="rotate(90 974.80 377.55)">variability</text>
<text x="806.90" y="465.90" font-size="12.0" text-anchor="middle" fill="#3a3a3a" textLength="100.4" lengthAdjust="spacingAndGlyphs">Glucosaminidase</text>
<polyline points="692.0,546.7 693.7,546.0 695.4,523.3 697.1,546.7 698.8,521.4 700.5,520.0 702.2,518.1 703.9,521.4 705.7,512.9 707.4,510.3 709.1,507.7 710.8,515.5 712.5,523.3 714.2,505.8 715.9,525.9 717.6,525.9 719.3,511.6 721.0,502.5 722.7,525.9 724.4,542.8 726.1,550.6 727.8,532.4 729.6,514.9 731.3,542.8 733.0,555.8 734.7,540.2 736.4,519.4 738.1,507.1 739.8,553.2 741.5,494.7 743.2,526.5 744.9,479.8 746.6,529.8 748.3,502.5 750.0,481.7 751.7,483.0 753.5,496.0 755.2,524.6 756.9,553.2 758.6,516.8 760.3,551.2 762.0,548.0 763.7,533.7 765.4,553.2 767.1,524.6 768.8,495.4 770.5,491.4 772.2,496.0 773.9,529.8 775.6,485.6 777.4,534.4 779.1,488.9 780.8,492.8 782.5,503.8 784.2,485.6 785.9,489.5 787.6,483.6 789.3,533.0 791.0,487.6 792.7,532.4 794.4,506.4 796.1,483.0 797.8,493.4 799.5,520.0 801.2,484.3 803.0,483.0 804.7,486.9 806.4,491.4 808.1,486.2 809.8,489.5 811.5,509.0 813.2,481.1 814.9,551.9 816.6,535.0 818.3,500.6 820.0,553.2 821.7,489.5 823.4,515.5 825.1,496.0 826.9,482.4 828.6,509.0 830.3,540.9 832.0,505.8 833.7,481.1 835.4,541.5 837.1,522.0 838.8,502.5 840.5,483.0 842.2,523.3 843.9,532.4 845.6,482.4 847.3,497.3 849.0,487.6 850.8,522.0 852.5,544.1 854.2,491.4 855.9,482.4 857.6,512.2 859.3,480.4 861.0,482.4 862.7,484.3 864.4,484.9 866.1,505.1 867.8,520.0 869.5,487.6 871.2,486.2 872.9,511.6 874.6,528.5 876.4,485.6 878.1,515.5 879.8,537.0 881.5,512.9 883.2,491.4 884.9,512.9 886.6,535.0 888.3,548.0 890.0,547.4 891.7,549.3 893.4,527.9 895.1,530.5 896.8,483.0 898.5,553.2 900.3,520.7 902.0,486.2 903.7,522.0 905.4,535.0 907.1,505.8 908.8,489.5 910.5,510.3 912.2,536.3 913.9,515.5 915.6,496.6 917.3,524.6 919.0,503.1 920.7,548.6" fill="none" stroke="#dd9b9b" stroke-width="2.15" stroke-linejoin="round" stroke-linecap="round"/>
<polyline points="692.0,544.8 693.7,544.8 695.4,523.3 697.1,546.7 698.8,513.5 700.5,510.3 702.2,506.4 703.9,516.1 705.7,501.9 707.4,509.0 709.1,511.6 710.8,520.0 712.5,528.5 714.2,514.2 715.9,531.1 717.6,525.9 719.3,515.5 721.0,505.8 722.7,525.9 724.4,542.8 726.1,550.6 727.8,532.4 729.6,516.1 731.3,542.8 733.0,555.8 734.7,540.2 736.4,519.4 738.1,507.1 739.8,553.2 741.5,494.7 743.2,526.5 744.9,479.8 746.6,529.8 748.3,502.5 750.0,486.9 751.7,486.2 753.5,500.6 755.2,524.6 756.9,553.2 758.6,520.0 760.3,551.2 762.0,551.9 763.7,540.9 765.4,554.5 767.1,524.6 768.8,495.4 770.5,491.4 772.2,496.0 773.9,529.8 775.6,492.1 777.4,534.4 779.1,495.4 780.8,497.3 782.5,509.0 784.2,492.8 785.9,494.7 787.6,494.1 789.3,533.0 791.0,497.9 792.7,531.1 794.4,511.6 796.1,493.4 797.8,498.6 799.5,515.5 801.2,491.4 803.0,495.4 804.7,497.3 806.4,497.9 808.1,493.4 809.8,494.7 811.5,512.9 813.2,493.4 814.9,551.9 816.6,535.0 818.3,504.4 820.0,553.2 821.7,492.8 823.4,508.4 825.1,496.0 826.9,484.9 828.6,509.0 830.3,540.9 832.0,505.8 833.7,490.1 835.4,541.5 837.1,522.0 838.8,502.5 840.5,483.0 842.2,523.3 843.9,532.4 845.6,488.2 847.3,497.3 849.0,490.8 850.8,522.0 852.5,544.1 854.2,491.4 855.9,483.6 857.6,512.2 859.3,492.1 861.0,486.9 862.7,486.2 864.4,490.8 866.1,518.1 867.8,520.0 869.5,496.0 871.2,492.1 872.9,511.6 874.6,528.5 876.4,490.8 878.1,515.5 879.8,537.0 881.5,512.9 883.2,496.6 884.9,517.5 886.6,542.1 888.3,554.5 890.0,547.4 891.7,549.3 893.4,527.9 895.1,530.5 896.8,486.9 898.5,553.2 900.3,520.7 902.0,488.9 903.7,522.0 905.4,535.0 907.1,505.8 908.8,490.8 910.5,510.3 912.2,536.3 913.9,515.5 915.6,496.6 917.3,524.6 919.0,503.1 920.7,548.6" fill="none" stroke="#2f93b3" stroke-width="2.15" stroke-linejoin="round" stroke-linecap="round"/>
<rect x="680.60" y="476.80" width="252.80" height="81.70" fill="none" stroke="#9b9b9b" stroke-width="1.25"/>
<line x1="674.20" y1="556.00" x2="680.60" y2="556.00" stroke="#999" stroke-width="1"/>
<text x="669.20" y="560.00" font-size="11.2" text-anchor="end" fill="#555555">0</text>
<line x1="674.20" y1="510.60" x2="680.60" y2="510.60" stroke="#999" stroke-width="1"/>
<text x="669.20" y="514.60" font-size="11.2" text-anchor="end" fill="#555555">0.5</text>
<line x1="933.40" y1="555.70" x2="939.80" y2="555.70" stroke="#999" stroke-width="1"/>
<text x="944.80" y="559.70" font-size="11.2" fill="#555555">0</text>
<line x1="933.40" y1="510.90" x2="939.80" y2="510.90" stroke="#999" stroke-width="1"/>
<text x="944.80" y="514.90" font-size="11.2" fill="#555555">0.5</text>
<line x1="692.00" y1="558.50" x2="692.00" y2="565.00" stroke="#999" stroke-width="1"/>
<text x="692.00" y="578.50" font-size="11.2" text-anchor="middle" fill="#555555">0</text>
<line x1="734.67" y1="558.50" x2="734.67" y2="565.00" stroke="#999" stroke-width="1"/>
<text x="734.67" y="578.50" font-size="11.2" text-anchor="middle" fill="#555555">25</text>
<line x1="777.35" y1="558.50" x2="777.35" y2="565.00" stroke="#999" stroke-width="1"/>
<text x="777.35" y="578.50" font-size="11.2" text-anchor="middle" fill="#555555">50</text>
<line x1="820.02" y1="558.50" x2="820.02" y2="565.00" stroke="#999" stroke-width="1"/>
<text x="820.02" y="578.50" font-size="11.2" text-anchor="middle" fill="#555555">75</text>
<line x1="862.70" y1="558.50" x2="862.70" y2="565.00" stroke="#999" stroke-width="1"/>
<text x="862.70" y="578.50" font-size="11.2" text-anchor="middle" fill="#555555">100</text>
<line x1="905.38" y1="558.50" x2="905.38" y2="565.00" stroke="#999" stroke-width="1"/>
<text x="905.38" y="578.50" font-size="11.2" text-anchor="middle" fill="#555555">125</text>
<text x="626.40" y="517.65" font-size="12.0" text-anchor="middle" fill="#3a3a3a" textLength="69.7" lengthAdjust="spacingAndGlyphs" transform="rotate(-90 626.40 517.65)">Natural seq.</text>
<text x="642.00" y="517.65" font-size="12.0" text-anchor="middle" fill="#3a3a3a" textLength="56.5" lengthAdjust="spacingAndGlyphs" transform="rotate(-90 642.00 517.65)">variability</text>
<text x="990.20" y="518.25" font-size="12.0" text-anchor="middle" fill="#3a3a3a" textLength="76.0" lengthAdjust="spacingAndGlyphs" transform="rotate(90 990.20 518.25)">Artificial seq.</text>
<text x="974.80" y="518.25" font-size="12.0" text-anchor="middle" fill="#3a3a3a" textLength="56.5" lengthAdjust="spacingAndGlyphs" transform="rotate(90 974.80 518.25)">variability</text>
<text x="806.90" y="604.70" font-size="12.0" text-anchor="middle" fill="#3a3a3a" textLength="45.2" lengthAdjust="spacingAndGlyphs">Pesticin</text>
<polyline points="692.0,677.1 693.5,670.0 695.1,673.9 696.6,641.4 698.2,631.0 699.7,685.6 701.3,663.5 702.8,634.9 704.4,625.8 705.9,636.2 707.5,677.8 709.0,681.7 710.6,647.9 712.1,623.2 713.7,621.2 715.2,641.4 716.8,628.4 718.3,655.7 719.9,667.4 721.4,659.6 723.0,677.8 724.5,633.6 726.1,629.7 727.6,624.5 729.2,628.4 730.7,625.1 732.2,625.8 733.8,683.0 735.3,681.7 736.9,672.6 738.4,683.0 740.0,663.5 741.5,662.2 743.1,633.0 744.6,664.8 746.2,653.1 747.7,679.1 749.3,666.1 750.8,683.0 752.4,640.1 753.9,621.2 755.5,640.1 757.0,641.4 758.6,618.0 760.1,621.9 761.7,640.1 763.2,640.1 764.8,642.7 766.3,640.1 767.9,621.2 769.4,631.0 770.9,638.8 772.5,623.2 774.0,622.5 775.6,631.0 777.1,667.4 778.7,620.6 780.2,644.0 781.8,670.0 783.3,634.9 784.9,655.7 786.4,657.0 788.0,636.2 789.5,636.2 791.1,615.4 792.6,619.3 794.2,670.0 795.7,619.3 797.3,620.6 798.8,621.9 800.4,650.5 801.9,621.9 803.5,621.2 805.0,623.2 806.6,644.0 808.1,621.9 809.6,667.4 811.2,624.5 812.7,655.7 814.3,618.6 815.8,625.8 817.4,659.6 818.9,637.5 820.5,620.6 822.0,621.2 823.6,647.9 825.1,657.0 826.7,620.0 828.2,631.0 829.8,628.4 831.3,634.9 832.9,616.7 834.4,620.6 836.0,624.5 837.5,625.8 839.1,621.9 840.6,629.7 842.2,649.2 843.7,628.4 845.3,617.4 846.8,620.0 848.3,663.5 849.9,631.0 851.4,625.1 853.0,626.5 854.5,631.6 856.1,623.2 857.6,614.8 859.2,631.0 860.7,670.0 862.3,616.7 863.8,620.0 865.4,675.2 866.9,644.0 868.5,621.2 870.0,631.0 871.6,631.6 873.1,657.0 874.7,671.3 876.2,658.3 877.8,657.0 879.3,642.0 880.9,667.4 882.4,650.5 884.0,631.6 885.5,667.4 887.0,653.8 888.6,657.0 890.1,676.5 891.7,649.2 893.2,633.0 894.8,662.2 896.3,631.0 897.9,628.4 899.4,633.6 901.0,641.4 902.5,663.5 904.1,642.7 905.6,663.5 907.2,647.9 908.7,631.0 910.3,647.9 911.8,650.5 913.4,644.0 914.9,635.5 916.5,642.7 918.0,651.8 919.6,688.2 921.1,672.6" fill="none" stroke="#dd9b9b" stroke-width="2.15" stroke-linejoin="round" stroke-linecap="round"/>
<polyline points="692.0,670.0 693.5,665.5 695.1,675.9 696.6,642.7 698.2,629.7 699.7,686.9 701.3,670.0 702.8,644.0 704.4,625.8 705.9,647.9 707.5,688.2 709.0,681.7 710.6,647.9 712.1,623.2 713.7,620.6 715.2,640.1 716.8,626.5 718.3,655.7 719.9,688.2 721.4,676.5 723.0,689.5 724.5,659.6 726.1,640.1 727.6,621.9 729.2,632.3 730.7,677.8 732.2,646.6 733.8,683.0 735.3,687.5 736.9,686.2 738.4,686.9 740.0,672.6 741.5,668.7 743.1,671.3 744.6,689.5 746.2,666.1 747.7,689.5 749.3,680.4 750.8,689.5 752.4,657.0 753.9,640.1 755.5,659.6 757.0,668.7 758.6,627.1 760.1,641.4 761.7,677.8 763.2,644.0 764.8,667.4 766.3,649.2 767.9,632.3 769.4,644.0 770.9,668.7 772.5,632.3 774.0,625.8 775.6,645.3 777.1,683.0 778.7,629.7 780.2,683.0 781.8,682.4 783.3,675.9 784.9,677.1 786.4,673.9 788.0,640.1 789.5,671.3 791.1,632.3 792.6,629.7 794.2,687.5 795.7,642.7 797.3,621.9 798.8,633.6 800.4,676.5 801.9,634.9 803.5,624.5 805.0,632.3 806.6,672.6 808.1,683.0 809.6,640.1 811.2,655.7 812.7,668.7 814.3,644.0 815.8,638.1 817.4,673.2 818.9,644.0 820.5,634.9 822.0,630.4 823.6,662.2 825.1,675.2 826.7,635.5 828.2,662.2 829.8,647.9 831.3,677.8 832.9,616.7 834.4,629.7 836.0,631.0 837.5,640.1 839.1,625.1 840.6,628.4 842.2,653.8 843.7,634.9 845.3,618.0 846.8,621.9 848.3,679.1 849.9,633.6 851.4,632.3 853.0,627.8 854.5,637.5 856.1,628.4 857.6,615.4 859.2,641.4 860.7,683.6 862.3,640.1 863.8,622.5 865.4,683.6 866.9,659.6 868.5,623.9 870.0,637.5 871.6,644.0 873.1,679.1 874.7,681.7 876.2,680.4 877.8,679.1 879.3,665.5 880.9,683.6 882.4,670.0 884.0,645.3 885.5,677.1 887.0,683.0 888.6,679.1 890.1,686.9 891.7,660.9 893.2,640.1 894.8,681.7 896.3,643.4 897.9,646.0 899.4,648.5 901.0,657.0 902.5,683.0 904.1,667.4 905.6,684.3 907.2,663.5 908.7,648.5 910.3,655.7 911.8,677.8 913.4,654.4 914.9,636.9 916.5,648.5 918.0,651.8 919.6,688.9 921.1,665.5" fill="none" stroke="#2f93b3" stroke-width="2.15" stroke-linejoin="round" stroke-linecap="round"/>
<rect x="680.60" y="611.90" width="252.80" height="81.60" fill="none" stroke="#9b9b9b" stroke-width="1.25"/>
<line x1="674.20" y1="691.90" x2="680.60" y2="691.90" stroke="#999" stroke-width="1"/>
<text x="669.20" y="695.90" font-size="11.2" text-anchor="end" fill="#555555">0</text>
<line x1="674.20" y1="645.50" x2="680.60" y2="645.50" stroke="#999" stroke-width="1"/>
<text x="669.20" y="649.50" font-size="11.2" text-anchor="end" fill="#555555">0.5</text>
<line x1="933.40" y1="691.40" x2="939.80" y2="691.40" stroke="#999" stroke-width="1"/>
<text x="944.80" y="695.40" font-size="11.2" fill="#555555">0</text>
<line x1="933.40" y1="636.60" x2="939.80" y2="636.60" stroke="#999" stroke-width="1"/>
<text x="944.80" y="640.60" font-size="11.2" fill="#555555">0.5</text>
<line x1="692.00" y1="693.50" x2="692.00" y2="700.00" stroke="#999" stroke-width="1"/>
<text x="692.00" y="713.80" font-size="11.2" text-anchor="middle" fill="#555555">0</text>
<line x1="730.70" y1="693.50" x2="730.70" y2="700.00" stroke="#999" stroke-width="1"/>
<text x="730.70" y="713.80" font-size="11.2" text-anchor="middle" fill="#555555">25</text>
<line x1="769.40" y1="693.50" x2="769.40" y2="700.00" stroke="#999" stroke-width="1"/>
<text x="769.40" y="713.80" font-size="11.2" text-anchor="middle" fill="#555555">50</text>
<line x1="808.10" y1="693.50" x2="808.10" y2="700.00" stroke="#999" stroke-width="1"/>
<text x="808.10" y="713.80" font-size="11.2" text-anchor="middle" fill="#555555">75</text>
<line x1="846.80" y1="693.50" x2="846.80" y2="700.00" stroke="#999" stroke-width="1"/>
<text x="846.80" y="713.80" font-size="11.2" text-anchor="middle" fill="#555555">100</text>
<line x1="885.50" y1="693.50" x2="885.50" y2="700.00" stroke="#999" stroke-width="1"/>
<text x="885.50" y="713.80" font-size="11.2" text-anchor="middle" fill="#555555">125</text>
<line x1="924.20" y1="693.50" x2="924.20" y2="700.00" stroke="#999" stroke-width="1"/>
<text x="924.20" y="713.80" font-size="11.2" text-anchor="middle" fill="#555555">150</text>
<text x="626.40" y="652.70" font-size="12.0" text-anchor="middle" fill="#3a3a3a" textLength="69.7" lengthAdjust="spacingAndGlyphs" transform="rotate(-90 626.40 652.70)">Natural seq.</text>
<text x="642.00" y="652.70" font-size="12.0" text-anchor="middle" fill="#3a3a3a" textLength="56.5" lengthAdjust="spacingAndGlyphs" transform="rotate(-90 642.00 652.70)">variability</text>
<text x="990.20" y="653.30" font-size="12.0" text-anchor="middle" fill="#3a3a3a" textLength="76.0" lengthAdjust="spacingAndGlyphs" transform="rotate(90 990.20 653.30)">Artificial seq.</text>
<text x="974.80" y="653.30" font-size="12.0" text-anchor="middle" fill="#3a3a3a" textLength="56.5" lengthAdjust="spacingAndGlyphs" transform="rotate(90 974.80 653.30)">variability</text>
<text x="688.90" y="734.70" font-size="12.0" fill="#3a3a3a" textLength="234.3" lengthAdjust="spacingAndGlyphs">Position in multiple sequence alignment</text>
</g>
<g id="pd">
<text x="1.80" y="352.90" font-size="17" font-weight="bold" fill="#111" textLength="10.9" lengthAdjust="spacingAndGlyphs" stroke="#111" stroke-width="0.6">d</text>
<text x="66.30" y="363.90" font-size="12.0" text-anchor="middle" fill="#3a3a3a" textLength="25.4" lengthAdjust="spacingAndGlyphs">DNA</text>
<text x="66.30" y="379.50" font-size="12.0" text-anchor="middle" fill="#3a3a3a" textLength="54.0" lengthAdjust="spacingAndGlyphs">synthesis</text>
<text x="212.80" y="363.90" font-size="12.0" text-anchor="middle" fill="#3a3a3a" textLength="40.3" lengthAdjust="spacingAndGlyphs">In vitro</text>
<text x="212.70" y="379.50" font-size="12.0" text-anchor="middle" fill="#3a3a3a" textLength="61.6" lengthAdjust="spacingAndGlyphs">translation</text>
<text x="360.00" y="363.90" font-size="12.0" text-anchor="middle" fill="#3a3a3a" textLength="40.5" lengthAdjust="spacingAndGlyphs">Protein</text>
<text x="360.20" y="379.50" font-size="12.0" text-anchor="middle" fill="#3a3a3a" textLength="66.2" lengthAdjust="spacingAndGlyphs">purification</text>
<text x="518.60" y="363.90" font-size="12.0" text-anchor="middle" fill="#3a3a3a" textLength="32.9" lengthAdjust="spacingAndGlyphs">Assay</text>
<text x="518.40" y="379.50" font-size="12.0" text-anchor="middle" fill="#3a3a3a" textLength="42.7" lengthAdjust="spacingAndGlyphs">activity</text>
<g id="dna">
<clipPath id="dnaclip"><rect x="28.1" y="400" width="76.1" height="60"/></clipPath>
<g clip-path="url(#dnaclip)">
<line x1="32.80" y1="417.10" x2="32.80" y2="432.30" stroke="#df5a5f" stroke-width="2.7"/>
<line x1="32.80" y1="432.30" x2="32.80" y2="443.70" stroke="#1792bf" stroke-width="2.7"/>
<line x1="42.30" y1="428.00" x2="42.30" y2="435.00" stroke="#df5a5f" stroke-width="2.7"/>
<line x1="42.30" y1="435.00" x2="42.30" y2="442.00" stroke="#1792bf" stroke-width="2.7"/>
<line x1="51.80" y1="428.00" x2="51.80" y2="436.00" stroke="#1792bf" stroke-width="2.7"/>
<line x1="51.80" y1="436.00" x2="51.80" y2="441.50" stroke="#df5a5f" stroke-width="2.7"/>
<line x1="61.30" y1="417.10" x2="61.30" y2="430.40" stroke="#1792bf" stroke-width="2.7"/>
<line x1="61.30" y1="430.40" x2="61.30" y2="443.70" stroke="#df5a5f" stroke-width="2.7"/>
<line x1="70.80" y1="411.50" x2="70.80" y2="427.60" stroke="#1792bf" stroke-width="2.7"/>
<line x1="70.80" y1="427.60" x2="70.80" y2="441.50" stroke="#df5a5f" stroke-width="2.7"/>
<line x1="80.80" y1="413.50" x2="80.80" y2="419.50" stroke="#1792bf" stroke-width="2.7"/>
<line x1="80.80" y1="419.50" x2="80.80" y2="426.00" stroke="#df5a5f" stroke-width="2.7"/>
<line x1="90.30" y1="414.50" x2="90.30" y2="418.00" stroke="#df5a5f" stroke-width="2.7"/>
<line x1="90.30" y1="418.00" x2="90.30" y2="425.00" stroke="#1792bf" stroke-width="2.7"/>
<line x1="99.80" y1="412.00" x2="99.80" y2="424.70" stroke="#df5a5f" stroke-width="2.7"/>
<line x1="99.80" y1="424.70" x2="99.80" y2="440.50" stroke="#1792bf" stroke-width="2.7"/>
<path d="M20.0,446.0 C21.4,446.0 25.6,445.9 28.1,445.8 C30.6,445.7 32.9,446.1 35.2,445.4 C37.5,444.7 39.7,443.8 41.9,441.8 C44.1,439.8 45.8,437.4 48.5,433.3 C51.2,429.2 55.3,420.8 58.0,417.1 C60.7,413.5 62.5,412.7 64.7,411.4 C66.9,410.1 68.9,409.4 71.3,409.5 C73.7,409.6 76.4,410.3 78.9,411.9 C81.4,413.5 83.7,415.4 86.5,419.0 C89.3,422.6 93.6,429.7 96.0,433.3 C98.4,436.9 99.5,439.0 100.8,440.9 C102.1,442.8 102.6,443.0 104.1,444.7 C105.6,446.4 109.0,449.9 110.0,451.0" fill="none" stroke="#0c5a8f" stroke-width="5.2"/>
<path d="M20.0,409.0 C21.4,409.6 25.7,411.3 28.1,412.5 C30.5,413.7 32.5,414.3 34.3,416.2 C36.1,418.1 36.6,420.2 39.0,423.8 C41.4,427.4 45.8,434.6 48.5,438.0 C51.2,441.4 53.1,442.6 55.2,443.9 C57.3,445.2 58.9,445.9 60.9,445.8 C62.9,445.7 65.5,444.8 67.5,443.2 C69.5,441.6 70.4,439.9 73.2,436.1 C76.0,432.3 81.4,424.3 84.6,420.4 C87.8,416.5 90.0,414.3 92.2,412.8 C94.4,411.3 95.9,411.5 97.9,411.3 C99.9,411.1 101.8,411.4 104.1,411.4 C106.4,411.4 110.7,411.5 112.0,411.5" fill="none" stroke="#b3172c" stroke-width="5.2"/>
<clipPath id="dnaclip2"><rect x="66" y="400" width="40" height="60"/></clipPath>
<path d="M20.0,446.0 C21.4,446.0 25.6,445.9 28.1,445.8 C30.6,445.7 32.9,446.1 35.2,445.4 C37.5,444.7 39.7,443.8 41.9,441.8 C44.1,439.8 45.8,437.4 48.5,433.3 C51.2,429.2 55.3,420.8 58.0,417.1 C60.7,413.5 62.5,412.7 64.7,411.4 C66.9,410.1 68.9,409.4 71.3,409.5 C73.7,409.6 76.4,410.3 78.9,411.9 C81.4,413.5 83.7,415.4 86.5,419.0 C89.3,422.6 93.6,429.7 96.0,433.3 C98.4,436.9 99.5,439.0 100.8,440.9 C102.1,442.8 102.6,443.0 104.1,444.7 C105.6,446.4 109.0,449.9 110.0,451.0" fill="none" stroke="#0c5a8f" stroke-width="5.2" clip-path="url(#dnaclip2)"/>
</g></g>
<path d="M117,426.0 L159.8,426.0 L155.0,421.09999999999997 L170.5,427.9 L155.0,434.7 L159.8,429.79999999999995 L117,429.79999999999995 Z" fill="#3c5269"/>
<g id="ribo">
<path d="M180.9,436.8 C181.2,436.4 183.5,437.1 184.2,436.9 C184.8,436.7 184.0,435.8 184.9,435.8 C185.8,435.8 188.3,436.9 189.4,437.0 C190.4,437.1 190.2,436.4 191.3,436.7 C192.4,437.0 194.8,438.4 196.0,438.9 C197.2,439.4 197.3,439.4 198.5,439.6 C199.7,439.7 201.8,440.1 203.2,439.9 C204.5,439.8 205.2,438.7 206.6,438.4 C208.0,438.1 209.8,438.6 211.4,438.1 C213.0,437.5 214.7,435.5 216.3,435.0 C218.0,434.5 219.6,435.4 221.6,435.2 C223.5,434.9 226.2,433.7 228.0,433.5 C229.9,433.4 230.8,434.3 232.7,434.4 C234.5,434.5 237.8,433.8 239.1,434.0 C240.3,434.2 239.3,435.2 240.0,435.6 C240.6,435.9 242.6,435.4 242.9,436.1 C243.2,436.8 241.9,438.5 241.8,439.6 C241.7,440.6 242.3,441.5 242.5,442.5 C242.6,443.4 242.2,444.4 242.7,445.3 C243.2,446.2 245.4,446.8 245.6,447.7 C245.8,448.7 244.0,449.8 243.8,450.9 C243.6,452.0 244.9,453.3 244.4,454.2 C244.0,455.1 241.8,455.5 241.0,456.3 C240.2,457.1 240.7,458.4 239.7,458.9 C238.8,459.4 236.4,458.9 235.2,459.1 C234.0,459.3 233.6,460.1 232.6,460.0 C231.6,460.0 230.0,459.1 229.2,459.0 C228.5,458.8 228.7,458.7 228.0,458.9 C227.3,459.1 225.6,459.5 224.9,460.2 C224.1,460.8 224.2,462.3 223.5,462.7 C222.9,463.2 221.4,462.4 220.8,462.7 C220.2,463.1 220.5,464.8 219.8,464.9 C219.1,465.0 217.3,463.5 216.3,463.5 C215.4,463.4 214.8,464.8 213.9,464.5 C213.0,464.2 211.9,462.3 210.9,461.8 C209.9,461.3 208.8,461.6 207.9,461.5 C207.0,461.3 206.5,460.7 205.5,460.9 C204.5,461.1 202.8,462.5 201.9,462.7 C200.9,462.9 200.9,462.0 199.9,462.2 C198.9,462.3 196.8,463.9 195.9,463.8 C195.1,463.8 195.4,462.3 194.6,461.9 C193.9,461.4 192.2,461.6 191.4,461.3 C190.6,461.0 190.8,460.4 190.0,460.2 C189.2,460.0 187.5,460.4 186.9,460.0 C186.2,459.7 186.5,458.6 186.0,458.0 C185.4,457.4 183.9,457.0 183.3,456.5 C182.8,456.1 183.3,455.5 182.7,455.1 C182.2,454.7 180.2,454.9 180.0,454.2 C179.7,453.4 181.3,451.8 181.3,450.6 C181.4,449.5 180.3,448.2 180.4,447.1 C180.5,446.1 181.9,445.4 182.0,444.4 C182.2,443.4 181.3,442.1 181.4,441.2 C181.5,440.4 182.4,440.2 182.4,439.5 C182.3,438.7 180.6,437.2 180.9,436.8 Z" fill="#4381ba"/>
<circle cx="242.6" cy="436.3" r="1.6" fill="#4381ba" transform="translate(-3.6 1.6)"/>
<circle cx="242.0" cy="442.6" r="1.6" fill="#4381ba" transform="translate(-3.5 0.8)"/>
<circle cx="244.9" cy="447.8" r="1.6" fill="#4381ba" transform="translate(-3.9 0.2)"/>
<circle cx="243.7" cy="454.1" r="1.6" fill="#4381ba" transform="translate(-3.7 -0.6)"/>
<circle cx="239.1" cy="458.7" r="1.6" fill="#4381ba" transform="translate(-3.2 -1.1)"/>
<circle cx="232.2" cy="459.9" r="1.6" fill="#4381ba" transform="translate(-2.3 -1.2)"/>
<circle cx="227.6" cy="458.7" r="1.6" fill="#4381ba" transform="translate(-1.8 -1.1)"/>
<circle cx="223.0" cy="462.2" r="1.6" fill="#4381ba" transform="translate(-1.2 -1.5)"/>
<circle cx="219.5" cy="464.5" r="1.6" fill="#4381ba" transform="translate(-0.8 -1.8)"/>
<circle cx="213.8" cy="463.9" r="1.6" fill="#4381ba" transform="translate(-0.1 -1.7)"/>
<circle cx="208.0" cy="461.0" r="1.6" fill="#4381ba" transform="translate(0.6 -1.4)"/>
<circle cx="202.3" cy="462.2" r="1.6" fill="#4381ba" transform="translate(1.2 -1.5)"/>
<circle cx="196.5" cy="463.3" r="1.6" fill="#4381ba" transform="translate(1.9 -1.7)"/>
<circle cx="191.9" cy="461.0" r="1.6" fill="#4381ba" transform="translate(2.5 -1.4)"/>
<circle cx="187.3" cy="459.9" r="1.6" fill="#4381ba" transform="translate(3.0 -1.2)"/>
<circle cx="183.8" cy="456.4" r="1.6" fill="#4381ba" transform="translate(3.5 -0.8)"/>
<circle cx="180.4" cy="454.1" r="1.6" fill="#4381ba" transform="translate(3.9 -0.6)"/>
<circle cx="180.9" cy="447.2" r="1.6" fill="#4381ba" transform="translate(3.8 0.3)"/>
<circle cx="182.1" cy="441.4" r="1.6" fill="#4381ba" transform="translate(3.7 1.0)"/>
<path d="M189.6,447.2 C191.3,446.2 197.1,445.3 198.8,446.0 C200.5,446.8 200.9,450.5 199.9,451.8 C199.0,453.1 195.0,454.1 193.0,454.1 C191.1,454.1 189.0,453.0 188.4,451.8 C187.9,450.7 187.9,448.2 189.6,447.2 Z" fill="#3b74ab"/>
<path d="M221.8,449.5 C223.6,448.2 231.6,446.8 234.5,447.2 C237.4,447.6 239.1,450.3 239.1,451.8 C239.1,453.3 237.0,455.8 234.5,456.4 C232.0,457.0 226.2,456.4 224.1,455.3 C222.0,454.1 220.1,450.8 221.8,449.5 Z" fill="#3c77ae"/>
<path d="M204.6,454.1 C205.9,453.0 211.5,452.2 213.8,453.0 C216.1,453.7 218.8,457.2 218.4,458.7 C218.0,460.3 213.6,462.0 211.5,462.2 C209.4,462.4 206.9,461.2 205.7,459.9 C204.6,458.5 203.2,455.3 204.6,454.1 Z" fill="#3e7ab2"/>
<path d="M186.1,440.9 C186.9,440.2 189.1,439.4 190.2,439.7 C191.2,440.0 192.7,441.6 192.5,442.6 C192.2,443.6 189.6,445.3 188.4,445.5 C187.3,445.7 185.9,444.5 185.5,443.7 C185.2,443.0 185.4,441.5 186.1,440.9 Z" fill="#4aaad6"/>
<path d="M209.7,443.2 C210.5,442.5 213.7,443.1 214.3,444.0 C215.0,444.9 214.3,447.9 213.5,448.6 C212.8,449.2 210.4,448.7 209.7,447.8 C209.1,446.9 209.0,443.8 209.7,443.2 Z" fill="#49a9d5"/>
<path d="M227.6,442.8 C228.3,442.5 231.4,442.9 232.0,443.3 C232.5,443.7 231.7,445.0 231.0,445.4 C230.4,445.7 228.4,445.8 227.8,445.4 C227.2,444.9 226.9,443.2 227.6,442.8 Z" fill="#4cb0da"/>
<path d="M196.7,454.3 C197.0,453.4 198.9,452.8 199.7,453.4 C200.5,454.1 201.8,457.3 201.6,458.3 C201.3,459.2 198.9,459.9 198.1,459.3 C197.3,458.6 196.5,455.3 196.7,454.3 Z" fill="#47a6d2"/>
<path d="M186.4,455.5 C186.5,455.0 189.0,456.0 189.4,456.6 C189.7,457.3 188.9,459.6 188.4,459.4 C187.9,459.2 186.2,456.0 186.4,455.5 Z" fill="#46a3cf"/>
<g opacity="0.5">
<ellipse cx="209.7" cy="452.3" rx="3.1" ry="2.5" fill="#4a88bf"/>
<ellipse cx="233.4" cy="444.2" rx="2.9" ry="2.6" fill="#4a88bf"/>
<ellipse cx="229.8" cy="442.1" rx="2.0" ry="1.8" fill="#3a72a8"/>
<ellipse cx="235.5" cy="454.0" rx="2.5" ry="2.7" fill="#4a88bf"/>
<ellipse cx="221.6" cy="453.5" rx="1.8" ry="1.8" fill="#3a72a8"/>
<ellipse cx="186.7" cy="440.8" rx="3.0" ry="1.8" fill="#5397cc"/>
<ellipse cx="210.4" cy="449.7" rx="2.9" ry="2.1" fill="#5397cc"/>
<ellipse cx="200.4" cy="440.1" rx="1.6" ry="1.3" fill="#4d8dc4"/>
<ellipse cx="215.5" cy="460.5" rx="1.6" ry="1.2" fill="#4d8dc4"/>
<ellipse cx="196.6" cy="446.4" rx="1.6" ry="1.3" fill="#3a72a8"/>
<ellipse cx="232.9" cy="448.5" rx="3.1" ry="2.2" fill="#3a72a8"/>
<ellipse cx="237.7" cy="441.2" rx="2.1" ry="1.7" fill="#4a88bf"/>
<ellipse cx="216.4" cy="444.4" rx="2.6" ry="1.7" fill="#4d8dc4"/>
<ellipse cx="202.6" cy="461.2" rx="2.8" ry="1.9" fill="#3a72a8"/>
<ellipse cx="224.7" cy="440.2" rx="2.3" ry="1.6" fill="#4a88bf"/>
<ellipse cx="216.0" cy="449.8" rx="1.8" ry="1.5" fill="#3f7ab2"/>
<ellipse cx="205.6" cy="448.7" rx="3.2" ry="2.3" fill="#3a72a8"/>
<ellipse cx="240.3" cy="457.7" rx="2.0" ry="1.4" fill="#3a72a8"/>
<ellipse cx="206.3" cy="458.8" rx="2.6" ry="1.6" fill="#3a72a8"/>
<ellipse cx="191.6" cy="449.7" rx="1.5" ry="1.2" fill="#5397cc"/>
<ellipse cx="200.5" cy="441.6" rx="1.7" ry="1.5" fill="#5397cc"/>
<ellipse cx="183.9" cy="448.1" rx="2.6" ry="2.8" fill="#3f7ab2"/>
<ellipse cx="211.5" cy="452.6" rx="3.0" ry="2.7" fill="#3f7ab2"/>
<ellipse cx="201.3" cy="445.0" rx="2.5" ry="1.7" fill="#3f7ab2"/>
<ellipse cx="220.1" cy="452.2" rx="2.7" ry="2.8" fill="#4a88bf"/>
<ellipse cx="218.6" cy="449.3" rx="1.7" ry="1.4" fill="#3a72a8"/>
</g>
<path d="M178.1,419.6 C178.2,418.4 179.8,417.7 180.1,416.7 C180.4,415.8 179.2,414.3 179.8,413.7 C180.5,413.1 182.9,413.4 183.9,413.1 C184.8,412.8 184.5,412.1 185.5,411.9 C186.5,411.6 188.8,411.8 190.0,411.7 C191.2,411.5 191.8,411.2 192.7,410.7 C193.5,410.2 194.6,409.7 195.1,408.8 C195.5,407.9 194.9,406.2 195.6,405.4 C196.2,404.6 197.9,404.7 198.8,403.8 C199.7,403.0 200.1,401.1 200.8,400.4 C201.5,399.8 202.4,400.5 203.0,400.0 C203.6,399.4 203.7,397.5 204.4,397.0 C205.0,396.4 206.1,397.3 206.9,396.8 C207.7,396.3 208.2,394.4 209.1,394.1 C210.1,393.9 211.4,395.2 212.6,395.2 C213.7,395.3 215.3,394.1 216.2,394.2 C217.2,394.2 217.4,395.7 218.1,395.8 C218.9,395.9 220.1,394.5 220.9,394.8 C221.8,395.1 222.2,397.1 223.2,397.7 C224.2,398.3 226.1,397.6 226.9,398.3 C227.6,399.0 227.3,400.8 227.9,401.7 C228.5,402.6 230.0,402.7 230.4,403.6 C230.9,404.5 230.3,406.2 230.8,407.2 C231.3,408.2 232.6,408.7 233.3,409.6 C233.9,410.4 234.1,411.6 235.0,412.5 C235.9,413.3 238.1,413.8 238.7,414.8 C239.3,415.8 238.1,417.2 238.5,418.4 C238.9,419.6 240.8,420.8 240.9,421.9 C241.1,423.0 239.3,424.0 239.2,425.2 C239.1,426.4 240.6,428.0 240.3,429.0 C240.1,429.9 238.0,430.0 237.5,430.8 C237.0,431.6 238.0,433.1 237.3,433.6 C236.6,434.2 234.3,433.8 233.3,434.1 C232.3,434.5 232.5,435.8 231.5,436.0 C230.6,436.3 228.5,435.5 227.6,435.7 C226.6,436.0 226.6,437.4 225.8,437.4 C225.0,437.4 223.5,436.1 222.7,435.9 C221.9,435.7 221.7,436.1 220.9,436.1 C220.2,436.0 218.9,435.6 218.2,435.8 C217.4,436.1 217.3,437.2 216.3,437.6 C215.4,437.9 213.7,437.4 212.5,438.0 C211.3,438.6 210.2,440.5 209.1,440.9 C208.1,441.3 207.4,440.2 206.4,440.3 C205.4,440.5 204.2,442.1 203.2,442.0 C202.3,441.9 201.7,440.2 200.8,439.8 C199.8,439.4 198.2,440.0 197.4,439.6 C196.5,439.2 196.5,437.7 195.7,437.2 C194.9,436.7 193.3,437.2 192.6,436.7 C191.8,436.2 192.1,434.8 191.3,434.3 C190.5,433.9 188.6,434.1 187.9,433.7 C187.1,433.4 187.6,432.6 186.8,432.4 C186.0,432.2 183.9,433.0 183.2,432.5 C182.4,432.1 183.2,430.4 182.6,429.6 C181.9,428.9 179.6,428.8 179.1,427.8 C178.7,426.8 179.8,424.9 179.7,423.5 C179.5,422.2 178.1,420.7 178.1,419.6 Z" fill="#5cad7c"/>
<circle cx="178.6" cy="419.6" r="1.7" fill="#5aaa7a" transform="translate(3.2 -0.1)"/>
<circle cx="180.4" cy="413.8" r="1.7" fill="#5aaa7a" transform="translate(3.0 0.5)"/>
<circle cx="186.1" cy="412.1" r="1.7" fill="#5aaa7a" transform="translate(2.4 0.6)"/>
<circle cx="193.0" cy="410.9" r="1.7" fill="#5aaa7a" transform="translate(1.7 0.7)"/>
<circle cx="195.9" cy="405.7" r="1.7" fill="#5aaa7a" transform="translate(1.4 1.3)"/>
<circle cx="201.1" cy="401.1" r="1.7" fill="#5aaa7a" transform="translate(0.9 1.7)"/>
<circle cx="204.6" cy="397.7" r="1.7" fill="#5aaa7a" transform="translate(0.6 2.1)"/>
<circle cx="209.2" cy="394.8" r="1.7" fill="#5aaa7a" transform="translate(0.1 2.4)"/>
<circle cx="216.1" cy="394.8" r="1.7" fill="#5aaa7a" transform="translate(-0.6 2.4)"/>
<circle cx="220.7" cy="395.4" r="1.7" fill="#5aaa7a" transform="translate(-1.0 2.3)"/>
<circle cx="226.4" cy="398.8" r="1.7" fill="#5aaa7a" transform="translate(-1.6 2.0)"/>
<circle cx="229.9" cy="404.0" r="1.7" fill="#5aaa7a" transform="translate(-2.0 1.4)"/>
<circle cx="232.8" cy="409.8" r="1.7" fill="#5aaa7a" transform="translate(-2.2 0.9)"/>
<circle cx="238.0" cy="414.9" r="1.7" fill="#5aaa7a" transform="translate(-2.8 0.3)"/>
<circle cx="240.3" cy="421.9" r="1.7" fill="#5aaa7a" transform="translate(-3.0 -0.3)"/>
<circle cx="239.7" cy="428.8" r="1.7" fill="#5aaa7a" transform="translate(-2.9 -1.0)"/>
<circle cx="236.8" cy="433.4" r="1.7" fill="#5aaa7a" transform="translate(-2.6 -1.5)"/>
<circle cx="231.0" cy="435.7" r="1.7" fill="#5aaa7a" transform="translate(-2.1 -1.7)"/>
<circle cx="225.3" cy="436.8" r="1.7" fill="#5aaa7a" transform="translate(-1.5 -1.8)"/>
<circle cx="220.7" cy="435.7" r="1.7" fill="#5aaa7a" transform="translate(-1.0 -1.7)"/>
<circle cx="216.1" cy="436.8" r="1.7" fill="#5aaa7a" transform="translate(-0.6 -1.8)"/>
<circle cx="209.2" cy="440.3" r="1.7" fill="#5aaa7a" transform="translate(0.1 -2.2)"/>
<circle cx="203.4" cy="441.4" r="1.7" fill="#5aaa7a" transform="translate(0.7 -2.3)"/>
<circle cx="197.6" cy="439.1" r="1.7" fill="#5aaa7a" transform="translate(1.3 -2.1)"/>
<circle cx="193.0" cy="436.3" r="1.7" fill="#5aaa7a" transform="translate(1.7 -1.8)"/>
<circle cx="188.4" cy="433.4" r="1.7" fill="#5aaa7a" transform="translate(2.2 -1.5)"/>
<circle cx="183.8" cy="432.2" r="1.7" fill="#5aaa7a" transform="translate(2.6 -1.4)"/>
<circle cx="179.8" cy="427.6" r="1.7" fill="#5aaa7a" transform="translate(3.1 -0.9)"/>
<path d="M179.8,415.5 C180.6,414.0 183.1,414.0 185.0,413.8 C186.9,413.6 190.2,413.0 191.3,414.4 C192.5,415.7 192.7,420.3 191.9,421.9 C191.0,423.4 188.0,423.4 186.1,423.6 C184.2,423.8 181.4,424.4 180.4,423.0 C179.3,421.7 179.0,417.1 179.8,415.5 Z" fill="#a3d292"/>
<path d="M205.7,400.0 C207.2,398.6 211.7,396.7 213.8,397.7 C215.9,398.6 217.4,402.9 218.4,405.7 C219.3,408.6 219.5,411.9 219.5,414.9 C219.5,418.0 219.3,421.7 218.4,424.2 C217.4,426.7 215.5,429.2 213.8,429.9 C212.0,430.7 209.5,429.9 208.0,428.8 C206.5,427.6 204.4,424.9 204.6,423.0 C204.7,421.1 208.6,419.4 209.2,417.3 C209.7,415.1 208.8,412.3 208.0,410.3 C207.2,408.4 204.9,407.5 204.6,405.7 C204.2,404.0 204.2,401.3 205.7,400.0 Z" fill="#72bc88"/>
<path d="M221.8,413.8 C223.0,412.3 227.8,411.7 229.9,412.6 C232.0,413.6 234.1,416.9 234.5,419.6 C234.9,422.2 233.7,426.5 232.2,428.8 C230.7,431.1 227.2,433.4 225.3,433.4 C223.4,433.4 221.1,430.7 220.7,428.8 C220.3,426.8 222.8,424.4 223.0,421.9 C223.2,419.4 220.7,415.3 221.8,413.8 Z" fill="#68b582"/>
<path d="M196.5,406.9 C197.6,404.8 201.7,403.8 203.4,404.6 C205.1,405.3 206.7,409.0 206.9,411.5 C207.0,414.0 205.9,417.4 204.6,419.6 C203.2,421.7 200.1,424.5 198.8,424.2 C197.5,423.8 196.9,420.1 196.5,417.3 C196.1,414.4 195.3,409.0 196.5,406.9 Z" fill="#4c9b6e"/>
<path d="M218.4,397.7 C219.3,395.9 223.6,398.4 225.3,400.0 C227.0,401.5 228.7,404.8 228.7,406.9 C228.7,409.0 226.8,412.1 225.3,412.6 C223.8,413.2 220.7,412.8 219.5,410.3 C218.4,407.8 217.4,399.4 218.4,397.7 Z" fill="#4e9e71"/>
<path d="M189.6,424.2 C191.1,423.2 195.9,423.8 197.6,425.3 C199.4,426.8 200.7,431.8 199.9,433.4 C199.2,434.9 195.0,434.9 193.0,434.5 C191.1,434.1 189.0,432.8 188.4,431.1 C187.9,429.3 188.0,425.1 189.6,424.2 Z" fill="#519f72"/>
<path d="M204.6,431.1 C206.3,430.3 211.8,431.5 213.8,432.2 C215.7,433.0 217.0,434.5 216.1,435.7 C215.1,436.8 210.1,438.9 208.0,439.1 C205.9,439.3 204.0,438.2 203.4,436.8 C202.8,435.5 202.8,431.8 204.6,431.1 Z" fill="#62b17f"/>
<clipPath id="gclip"><path d="M178.6,419.6 C178.7,417.3 179.1,415.0 180.4,413.8 C181.6,412.5 184.0,412.5 186.1,412.1 C188.2,411.6 191.4,412.0 193.0,410.9 C194.7,409.9 194.6,407.4 195.9,405.7 C197.3,404.1 199.7,402.5 201.1,401.1 C202.5,399.8 203.2,398.7 204.6,397.7 C205.9,396.6 207.2,395.3 209.2,394.8 C211.1,394.3 214.2,394.7 216.1,394.8 C218.0,394.9 219.0,394.7 220.7,395.4 C222.4,396.0 224.9,397.4 226.4,398.8 C228.0,400.3 228.8,402.2 229.9,404.0 C230.9,405.8 231.4,407.9 232.8,409.8 C234.1,411.6 236.7,412.9 238.0,414.9 C239.2,417.0 240.0,419.6 240.3,421.9 C240.5,424.2 240.3,426.8 239.7,428.8 C239.1,430.7 238.2,432.2 236.8,433.4 C235.4,434.5 233.0,435.1 231.0,435.7 C229.1,436.3 227.0,436.8 225.3,436.8 C223.6,436.8 222.2,435.7 220.7,435.7 C219.1,435.7 218.0,436.1 216.1,436.8 C214.2,437.6 211.3,439.5 209.2,440.3 C207.0,441.1 205.3,441.6 203.4,441.4 C201.5,441.2 199.4,440.0 197.6,439.1 C195.9,438.3 194.6,437.2 193.0,436.3 C191.5,435.3 190.0,434.0 188.4,433.4 C186.9,432.7 185.3,433.2 183.8,432.2 C182.4,431.3 180.7,429.7 179.8,427.6 C178.9,425.5 178.5,421.9 178.6,419.6 Z"/></clipPath><clipPath id="bclip"><path d="M181.5,437.1 C182.1,436.2 183.8,436.1 185.5,436.1 C187.3,436.1 189.7,436.4 191.9,437.1 C194.1,437.7 196.3,439.5 198.8,439.8 C201.3,440.2 204.0,439.8 206.9,439.1 C209.7,438.4 212.6,436.5 216.1,435.7 C219.5,434.8 223.8,434.2 227.6,434.0 C231.3,433.7 236.0,433.9 238.5,434.3 C241.0,434.7 242.0,434.9 242.6,436.3 C243.1,437.6 241.6,440.7 242.0,442.6 C242.4,444.5 244.6,445.9 244.9,447.8 C245.2,449.7 244.7,452.3 243.7,454.1 C242.8,455.9 241.0,457.8 239.1,458.7 C237.2,459.7 234.1,459.9 232.2,459.9 C230.3,459.9 229.1,458.3 227.6,458.7 C226.1,459.1 224.3,461.2 223.0,462.2 C221.6,463.1 221.1,464.2 219.5,464.5 C218.0,464.8 215.7,464.5 213.8,463.9 C211.8,463.3 209.9,461.3 208.0,461.0 C206.1,460.7 204.2,461.8 202.3,462.2 C200.3,462.6 198.2,463.5 196.5,463.3 C194.8,463.1 193.4,461.6 191.9,461.0 C190.3,460.4 188.6,460.6 187.3,459.9 C185.9,459.1 185.0,457.4 183.8,456.4 C182.7,455.5 180.8,455.6 180.4,454.1 C179.9,452.6 180.7,449.3 180.9,447.2 C181.2,445.1 182.0,443.1 182.1,441.4 C182.2,439.7 180.9,437.9 181.5,437.1 Z"/></clipPath>
<g clip-path="url(#gclip)" opacity="0.55">
<ellipse cx="199.4" cy="401.2" rx="2.9" ry="2.9" fill="#47966a"/>
<ellipse cx="185.6" cy="422.0" rx="3.4" ry="2.1" fill="#4f9f72"/>
<ellipse cx="206.0" cy="397.4" rx="1.8" ry="1.1" fill="#79c08c"/>
<ellipse cx="213.9" cy="439.5" rx="2.9" ry="3.1" fill="#58a879"/>
<ellipse cx="214.6" cy="413.0" rx="3.6" ry="3.1" fill="#47966a"/>
<ellipse cx="188.0" cy="414.1" rx="2.7" ry="2.0" fill="#58a879"/>
<ellipse cx="229.0" cy="402.7" rx="2.8" ry="1.9" fill="#84c792"/>
<ellipse cx="185.8" cy="428.2" rx="2.7" ry="1.9" fill="#58a879"/>
<ellipse cx="220.8" cy="414.5" rx="2.2" ry="2.4" fill="#58a879"/>
<ellipse cx="201.7" cy="405.9" rx="2.0" ry="1.3" fill="#4f9f72"/>
<ellipse cx="198.0" cy="417.8" rx="2.3" ry="1.7" fill="#79c08c"/>
<ellipse cx="238.8" cy="399.7" rx="2.4" ry="1.6" fill="#6ab783"/>
<ellipse cx="209.3" cy="395.9" rx="2.9" ry="2.6" fill="#58a879"/>
<ellipse cx="232.5" cy="409.1" rx="3.0" ry="2.5" fill="#58a879"/>
<ellipse cx="227.8" cy="397.3" rx="1.8" ry="1.5" fill="#6ab783"/>
<ellipse cx="219.8" cy="396.9" rx="3.0" ry="2.7" fill="#84c792"/>
<ellipse cx="220.9" cy="415.4" rx="3.0" ry="2.3" fill="#84c792"/>
<ellipse cx="236.4" cy="411.1" rx="2.8" ry="1.8" fill="#79c08c"/>
<ellipse cx="226.1" cy="400.2" rx="2.1" ry="2.2" fill="#79c08c"/>
<ellipse cx="209.8" cy="402.0" rx="2.4" ry="2.5" fill="#6ab783"/>
<ellipse cx="229.2" cy="435.5" rx="2.2" ry="2.4" fill="#79c08c"/>
<ellipse cx="221.0" cy="412.3" rx="2.1" ry="1.4" fill="#47966a"/>
<ellipse cx="193.9" cy="405.2" rx="2.6" ry="1.8" fill="#58a879"/>
<ellipse cx="196.9" cy="401.0" rx="2.7" ry="2.4" fill="#58a879"/>
<ellipse cx="237.2" cy="427.1" rx="2.6" ry="2.4" fill="#58a879"/>
<ellipse cx="224.4" cy="415.9" rx="3.3" ry="3.3" fill="#84c792"/>
<ellipse cx="203.5" cy="413.2" rx="1.8" ry="1.4" fill="#84c792"/>
<ellipse cx="191.4" cy="441.3" rx="2.5" ry="1.9" fill="#47966a"/>
<ellipse cx="183.2" cy="394.0" rx="1.9" ry="2.0" fill="#47966a"/>
<ellipse cx="216.8" cy="397.4" rx="2.0" ry="1.4" fill="#79c08c"/>
<ellipse cx="195.1" cy="410.7" rx="2.3" ry="1.5" fill="#47966a"/>
<ellipse cx="209.3" cy="440.9" rx="2.6" ry="1.6" fill="#6ab783"/>
<ellipse cx="186.1" cy="410.4" rx="2.1" ry="1.4" fill="#84c792"/>
<ellipse cx="181.4" cy="439.6" rx="2.7" ry="2.5" fill="#4f9f72"/>
</g>
</g>
<path d="M256.8,426.0 L299.3,426.0 L294.5,421.09999999999997 L310,427.9 L294.5,434.7 L299.3,429.79999999999995 L256.8,429.79999999999995 Z" fill="#3c5269"/>
<g id="tube">
<path d="M340.9,429 L356.2,409.6 L369.5,438.9 L340.9,434.5 Z" fill="#b6c4dd"/>
<circle cx="381.1" cy="415.4" r="26.4" fill="#f0f3f6" stroke="#76889f" stroke-width="0.9"/>
<circle cx="373.9" cy="414.1" r="2.9" fill="#8aa0d7"/>
<circle cx="372.0" cy="416.1" r="2.9" fill="#8aa0d7"/>
<circle cx="369.3" cy="415.9" r="2.9" fill="#8aa0d7"/>
<circle cx="367.8" cy="413.7" r="2.9" fill="#8aa0d7"/>
<circle cx="368.6" cy="411.1" r="2.9" fill="#8aa0d7"/>
<circle cx="371.1" cy="410.1" r="2.9" fill="#8aa0d7"/>
<circle cx="373.5" cy="411.4" r="2.9" fill="#8aa0d7"/>
<circle cx="370.9" cy="413.2" r="4.0" fill="#8da3d9"/>
<circle cx="369.8" cy="411.8" r="2.0" fill="#98acde"/>
<circle cx="392.3" cy="407.1" r="3.2" fill="#8aa0d7"/>
<circle cx="390.2" cy="409.3" r="3.2" fill="#8aa0d7"/>
<circle cx="387.1" cy="409.1" r="3.2" fill="#8aa0d7"/>
<circle cx="385.4" cy="406.5" r="3.2" fill="#8aa0d7"/>
<circle cx="386.3" cy="403.6" r="3.2" fill="#8aa0d7"/>
<circle cx="389.2" cy="402.4" r="3.2" fill="#8aa0d7"/>
<circle cx="391.9" cy="404.0" r="3.2" fill="#8aa0d7"/>
<circle cx="388.9" cy="406" r="4.5" fill="#8da3d9"/>
<circle cx="387.6" cy="404.4" r="2.3" fill="#98acde"/>
<circle cx="388.3" cy="426.3" r="3.5" fill="#8aa0d7"/>
<circle cx="386.0" cy="428.7" r="3.5" fill="#8aa0d7"/>
<circle cx="382.6" cy="428.5" r="3.5" fill="#8aa0d7"/>
<circle cx="380.7" cy="425.7" r="3.5" fill="#8aa0d7"/>
<circle cx="381.7" cy="422.4" r="3.5" fill="#8aa0d7"/>
<circle cx="384.9" cy="421.2" r="3.5" fill="#8aa0d7"/>
<circle cx="387.8" cy="422.9" r="3.5" fill="#8aa0d7"/>
<circle cx="384.6" cy="425.1" r="5.0" fill="#8da3d9"/>
<circle cx="383.2" cy="423.3" r="2.5" fill="#98acde"/>
<path d="M325.1,409 L342.6,409 L342.6,454.1 L333.7,465.2 L325.1,454.1 Z" fill="#d4d8dc"/>
<rect x="326.6" y="409" width="2.6" height="45" fill="#eaedef"/>
<rect x="338.5" y="409" width="2.2" height="45" fill="#dfe3e6"/>
<path d="M325.1,446.6 L342.6,446.6 L342.6,454.1 L333.7,465.2 L325.1,454.1 Z" fill="#9ad3f1"/>
<path d="M325.1,455 L342.6,455 L333.7,465.2 Z" fill="#7cc4ec"/>
<rect x="325.1" y="446.2" width="17.5" height="1.6" fill="#86c8ee"/>
<path d="M327.4,425.3 L339.8,422.4 L340.6,435.7 L329.4,441.4 Z" fill="#95c6eb"/>
<line x1="332.50" y1="425.70" x2="339.80" y2="424.20" stroke="#6ea9da" stroke-width="0.6"/>
<line x1="332.50" y1="427.45" x2="339.80" y2="425.95" stroke="#6ea9da" stroke-width="0.6"/>
<line x1="332.50" y1="429.20" x2="339.80" y2="427.70" stroke="#6ea9da" stroke-width="0.6"/>
<line x1="332.50" y1="430.95" x2="339.80" y2="429.45" stroke="#6ea9da" stroke-width="0.6"/>
<line x1="332.50" y1="432.70" x2="339.80" y2="431.20" stroke="#6ea9da" stroke-width="0.6"/>
<line x1="332.50" y1="434.45" x2="339.80" y2="432.95" stroke="#6ea9da" stroke-width="0.6"/>
<line x1="332.50" y1="436.20" x2="339.80" y2="434.70" stroke="#6ea9da" stroke-width="0.6"/>
<path d="M324,409.8 L324,402.6 Q324,400.6 326,400.6 L341.6,400.6 Q343.6,400.6 343.6,402.6 L343.6,409.8 Z" fill="#0f6f9c"/>
<rect x="324.6" y="400.6" width="18.4" height="1.8" rx="0.9" fill="#2086b3"/>
</g>
<path d="M414.2,426.0 L456.90000000000003,426.0 L452.1,421.09999999999997 L467.6,427.9 L452.1,434.7 L456.90000000000003,429.79999999999995 L414.2,429.79999999999995 Z" fill="#3c5269"/>
<g id="reader">
<polygon points="478.9,407.2 541.5,414.5 541.5,460.3 478.9,449.3" fill="#d2d4d4"/>
<polygon points="541.5,414.5 561.6,397.2 561.6,435.6 541.5,460.3" fill="#b9bbbb"/>
<polygon points="478.9,407.2 508.6,392.6 561.6,397.2 541.5,414.5" fill="#dcdede"/>
<polygon points="478.9,426.9 541.5,434.8 541.5,439.5 478.9,431.4" fill="#a25b9f"/>
<polygon points="541.5,434.8 561.6,414.2 561.6,418.9 541.5,439.5" fill="#874a85"/>
<line x1="478.90" y1="409.40" x2="541.50" y2="417.00" stroke="#a9abab" stroke-width="0.7"/>
<line x1="541.50" y1="417.00" x2="561.60" y2="399.60" stroke="#9c9e9e" stroke-width="0.7"/>
<polygon points="472.9,448.4 483.9,438.3 509.1,441.1 509.1,446.5 498.5,452 473.8,450.6" fill="#2d2d30"/>
<polygon points="476.2,448.2 481.6,444.0 505.6,446.0 498.2,450.6" fill="#9fa3a6"/>
<rect x="540" y="459.5" width="3" height="1.6" fill="#666"/>
<rect x="481" y="449.5" width="3" height="1.4" fill="#666"/>
</g>
</g>
<g id="pe">
<text x="1.60" y="496.30" font-size="17" font-weight="bold" fill="#111" textLength="10.5" lengthAdjust="spacingAndGlyphs" stroke="#111" stroke-width="0.6">e</text>
<rect x="69.30" y="639.00" width="49.00" height="21.98" fill="#9ccddb"/>
<rect x="69.30" y="660.68" width="49.00" height="32.12" fill="#0086ad"/>
<text x="96.00" y="657.08" font-size="12.4" text-anchor="middle" font-weight="bold" fill="#0a4d61" textLength="27.2" lengthAdjust="spacingAndGlyphs" stroke="#0a4d61" stroke-width="0.35">60%</text>
<rect x="130.50" y="639.00" width="49.00" height="21.98" fill="#9ccddb"/>
<rect x="130.50" y="660.68" width="49.00" height="32.12" fill="#0086ad"/>
<text x="157.20" y="657.08" font-size="12.4" text-anchor="middle" font-weight="bold" fill="#0a4d61" textLength="27.2" lengthAdjust="spacingAndGlyphs" stroke="#0a4d61" stroke-width="0.35">60%</text>
<rect x="192.00" y="557.70" width="49.00" height="49.08" fill="#9ccddb"/>
<rect x="192.00" y="606.48" width="49.00" height="86.32" fill="#0086ad"/>
<text x="218.90" y="602.88" font-size="12.4" text-anchor="middle" font-weight="bold" fill="#0a4d61" textLength="26.4" lengthAdjust="spacingAndGlyphs" stroke="#0a4d61" stroke-width="0.35">64%</text>
<rect x="253.20" y="530.60" width="49.00" height="38.24" fill="#9ccddb"/>
<rect x="253.20" y="568.54" width="49.00" height="124.26" fill="#0086ad"/>
<text x="280.70" y="564.94" font-size="12.4" text-anchor="middle" font-weight="bold" fill="#0a4d61" textLength="24.2" lengthAdjust="spacingAndGlyphs" stroke="#0a4d61" stroke-width="0.35">77%</text>
<rect x="314.40" y="557.70" width="49.00" height="21.98" fill="#9ccddb"/>
<rect x="314.40" y="579.38" width="49.00" height="113.42" fill="#0086ad"/>
<text x="341.90" y="575.78" font-size="12.4" text-anchor="middle" font-weight="bold" fill="#0a4d61" textLength="26.4" lengthAdjust="spacingAndGlyphs" stroke="#0a4d61" stroke-width="0.35">84%</text>
<line x1="54.40" y1="504.00" x2="54.40" y2="693.30" stroke="#8c8c8c" stroke-width="1"/>
<line x1="53.90" y1="692.80" x2="378.00" y2="692.80" stroke="#8c8c8c" stroke-width="1"/>
<line x1="48.10" y1="692.80" x2="54.40" y2="692.80" stroke="#8c8c8c" stroke-width="1"/>
<text x="42.20" y="696.80" font-size="11.2" text-anchor="end" fill="#555555">0</text>
<line x1="48.10" y1="638.60" x2="54.40" y2="638.60" stroke="#8c8c8c" stroke-width="1"/>
<text x="42.20" y="642.60" font-size="11.2" text-anchor="end" fill="#555555">10</text>
<line x1="48.10" y1="584.40" x2="54.40" y2="584.40" stroke="#8c8c8c" stroke-width="1"/>
<text x="42.20" y="588.40" font-size="11.2" text-anchor="end" fill="#555555">20</text>
<line x1="48.10" y1="530.20" x2="54.40" y2="530.20" stroke="#8c8c8c" stroke-width="1"/>
<text x="42.20" y="534.20" font-size="11.2" text-anchor="end" fill="#555555">30</text>
<line x1="93.80" y1="692.80" x2="93.80" y2="698.80" stroke="#8c8c8c" stroke-width="1"/>
<text x="94.10" y="713.10" font-size="11.2" text-anchor="middle" fill="#555555" textLength="40.4" lengthAdjust="spacingAndGlyphs">40–50%</text>
<line x1="155.00" y1="692.80" x2="155.00" y2="698.80" stroke="#8c8c8c" stroke-width="1"/>
<text x="155.30" y="713.10" font-size="11.2" text-anchor="middle" fill="#555555" textLength="40.4" lengthAdjust="spacingAndGlyphs">50–60%</text>
<line x1="216.50" y1="692.80" x2="216.50" y2="698.80" stroke="#8c8c8c" stroke-width="1"/>
<text x="216.80" y="713.10" font-size="11.2" text-anchor="middle" fill="#555555" textLength="40.4" lengthAdjust="spacingAndGlyphs">60–70%</text>
<line x1="277.70" y1="692.80" x2="277.70" y2="698.80" stroke="#8c8c8c" stroke-width="1"/>
<text x="278.00" y="713.10" font-size="11.2" text-anchor="middle" fill="#555555" textLength="40.4" lengthAdjust="spacingAndGlyphs">70–80%</text>
<line x1="338.90" y1="692.80" x2="338.90" y2="698.80" stroke="#8c8c8c" stroke-width="1"/>
<text x="339.20" y="713.10" font-size="11.2" text-anchor="middle" fill="#555555" textLength="40.4" lengthAdjust="spacingAndGlyphs">80–90%</text>
<text x="34.00" y="734.90" font-size="12.0" fill="#3a3a3a" textLength="364.8" lengthAdjust="spacingAndGlyphs">Artificial proteins: maximum ID with any known natural protein</text>
<text x="14.80" y="597.40" font-size="12.0" text-anchor="middle" fill="#3a3a3a" textLength="177.2" lengthAdjust="spacingAndGlyphs" transform="rotate(-90 14.80 597.40)">Number of expressed proteins</text>
<rect x="65.70" y="515.00" width="29.20" height="11.30" fill="#0086ad"/>
<rect x="65.70" y="534.40" width="29.20" height="11.10" fill="#9ccddb"/>
<text x="101.60" y="524.80" font-size="12.0" fill="#3a3a3a" textLength="93.1" lengthAdjust="spacingAndGlyphs">High expression</text>
<text x="101.60" y="544.60" font-size="12.0" fill="#3a3a3a" textLength="108.4" lengthAdjust="spacingAndGlyphs">Low/no expression</text>
<rect x="459.40" y="504.60" width="52.20" height="53.28" fill="#9ccddb"/>
<rect x="459.40" y="557.58" width="52.20" height="136.22" fill="#0086ad"/>
<text x="488.40" y="555.40" font-size="12.4" text-anchor="middle" font-weight="bold" fill="#0a4d61" textLength="24.6" lengthAdjust="spacingAndGlyphs" stroke="#0a4d61" stroke-width="0.35">72%</text>
<rect x="525.00" y="504.60" width="52.20" height="53.28" fill="#e7c2c2"/>
<rect x="525.00" y="557.58" width="52.20" height="136.22" fill="#d17c80"/>
<text x="554.00" y="555.40" font-size="12.4" text-anchor="middle" font-weight="bold" fill="#d9787d" textLength="24.6" lengthAdjust="spacingAndGlyphs" stroke="#d9787d" stroke-width="0.35">72%</text>
<line x1="453.90" y1="504.10" x2="453.90" y2="694.30" stroke="#8c8c8c" stroke-width="1"/>
<line x1="453.40" y1="693.80" x2="583.00" y2="693.80" stroke="#8c8c8c" stroke-width="1"/>
<line x1="447.20" y1="693.80" x2="453.90" y2="693.80" stroke="#8c8c8c" stroke-width="1"/>
<text x="442.20" y="697.80" font-size="11.2" text-anchor="end" fill="#555555">0</text>
<line x1="447.20" y1="655.96" x2="453.90" y2="655.96" stroke="#8c8c8c" stroke-width="1"/>
<text x="442.20" y="659.96" font-size="11.2" text-anchor="end" fill="#555555">20</text>
<line x1="447.20" y1="618.12" x2="453.90" y2="618.12" stroke="#8c8c8c" stroke-width="1"/>
<text x="442.20" y="622.12" font-size="11.2" text-anchor="end" fill="#555555">40</text>
<line x1="447.20" y1="580.28" x2="453.90" y2="580.28" stroke="#8c8c8c" stroke-width="1"/>
<text x="442.20" y="584.28" font-size="11.2" text-anchor="end" fill="#555555">60</text>
<line x1="447.20" y1="542.44" x2="453.90" y2="542.44" stroke="#8c8c8c" stroke-width="1"/>
<text x="442.20" y="546.44" font-size="11.2" text-anchor="end" fill="#555555">80</text>
<line x1="447.20" y1="504.60" x2="453.90" y2="504.60" stroke="#8c8c8c" stroke-width="1"/>
<text x="442.20" y="508.60" font-size="11.2" text-anchor="end" fill="#555555">100</text>
<line x1="485.50" y1="693.80" x2="485.50" y2="699.80" stroke="#8c8c8c" stroke-width="1"/>
<line x1="550.80" y1="693.80" x2="550.80" y2="699.80" stroke="#8c8c8c" stroke-width="1"/>
<text x="486.30" y="717.00" font-size="12.0" text-anchor="middle" fill="#3a3a3a" textLength="65.4" lengthAdjust="spacingAndGlyphs">All artificial</text>
<text x="486.50" y="731.00" font-size="12.0" text-anchor="middle" fill="#3a3a3a" textLength="47.0" lengthAdjust="spacingAndGlyphs">proteins</text>
<text x="551.20" y="717.00" font-size="12.0" text-anchor="middle" fill="#3a3a3a" textLength="41.6" lengthAdjust="spacingAndGlyphs">Natural</text>
<text x="551.50" y="731.00" font-size="12.0" text-anchor="middle" fill="#3a3a3a" textLength="47.0" lengthAdjust="spacingAndGlyphs">proteins</text>
<text x="411.30" y="602.20" font-size="12.0" text-anchor="middle" fill="#3a3a3a" textLength="177.2" lengthAdjust="spacingAndGlyphs" transform="rotate(-90 411.30 602.20)">Number of expressed proteins</text>
</g>
</svg>
</body>
</html>
